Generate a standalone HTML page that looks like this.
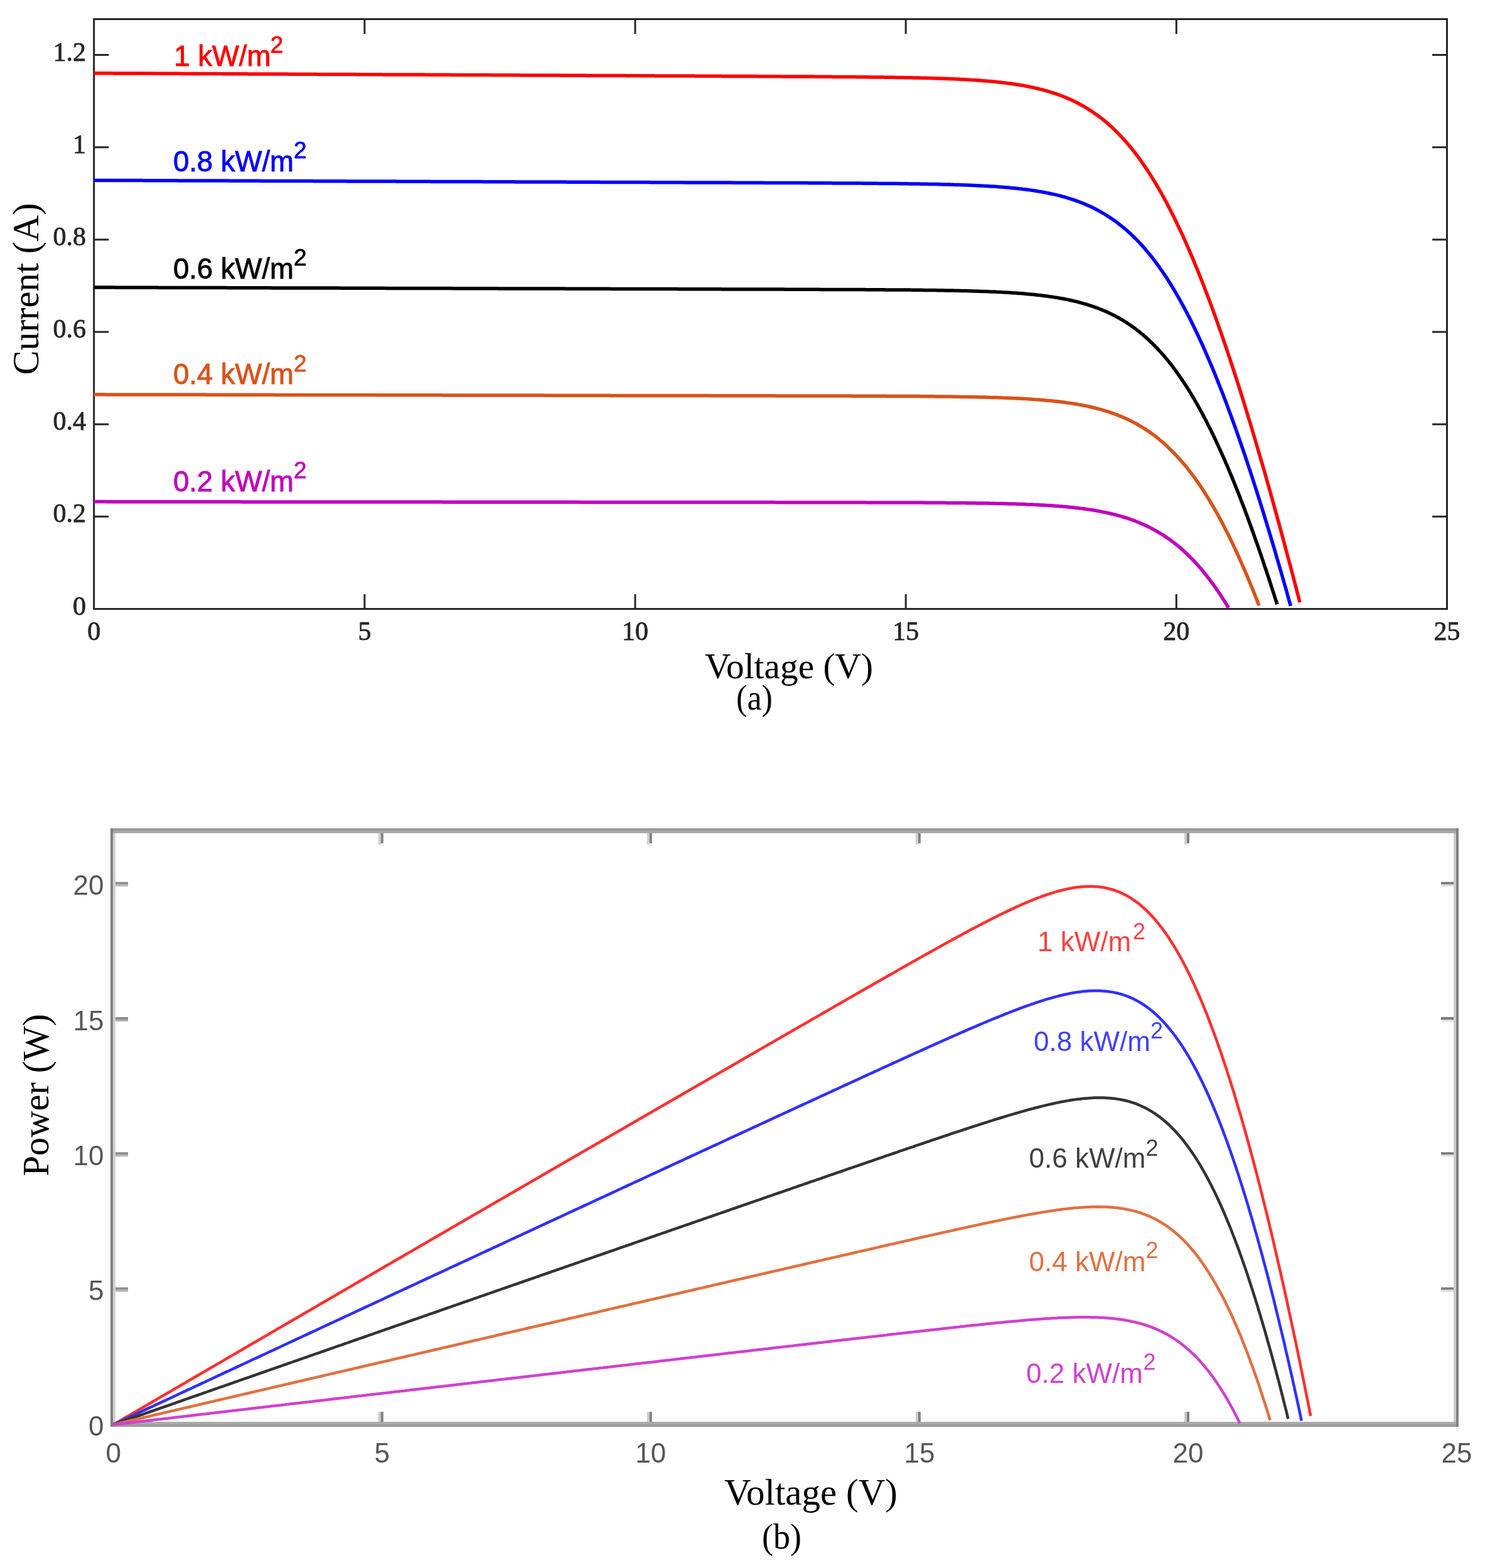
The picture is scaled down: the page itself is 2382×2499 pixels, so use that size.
<!DOCTYPE html>
<html><head><meta charset="utf-8"><title>PV characteristics</title>
<style>html,body{margin:0;padding:0;background:#fff;}svg{display:block;}</style></head>
<body>
<svg width="2382" height="2499" viewBox="0 0 2382 2499">
<rect width="2382" height="2499" fill="#fff"/>

<g>
<rect x="149.7" y="30.5" width="2155.8" height="940.0" fill="none" stroke="#262626" stroke-width="3"/>
<line x1="580.9" y1="970.5" x2="580.9" y2="947.0" stroke="#262626" stroke-width="3"/>
<line x1="580.9" y1="30.5" x2="580.9" y2="54.0" stroke="#262626" stroke-width="3"/>
<line x1="1012.0" y1="970.5" x2="1012.0" y2="947.0" stroke="#262626" stroke-width="3"/>
<line x1="1012.0" y1="30.5" x2="1012.0" y2="54.0" stroke="#262626" stroke-width="3"/>
<line x1="1443.2" y1="970.5" x2="1443.2" y2="947.0" stroke="#262626" stroke-width="3"/>
<line x1="1443.2" y1="30.5" x2="1443.2" y2="54.0" stroke="#262626" stroke-width="3"/>
<line x1="1874.3" y1="970.5" x2="1874.3" y2="947.0" stroke="#262626" stroke-width="3"/>
<line x1="1874.3" y1="30.5" x2="1874.3" y2="54.0" stroke="#262626" stroke-width="3"/>
<line x1="149.7" y1="823.3" x2="173.2" y2="823.3" stroke="#262626" stroke-width="3"/>
<line x1="2305.5" y1="823.3" x2="2282.0" y2="823.3" stroke="#262626" stroke-width="3"/>
<line x1="149.7" y1="676.2" x2="173.2" y2="676.2" stroke="#262626" stroke-width="3"/>
<line x1="2305.5" y1="676.2" x2="2282.0" y2="676.2" stroke="#262626" stroke-width="3"/>
<line x1="149.7" y1="529.0" x2="173.2" y2="529.0" stroke="#262626" stroke-width="3"/>
<line x1="2305.5" y1="529.0" x2="2282.0" y2="529.0" stroke="#262626" stroke-width="3"/>
<line x1="149.7" y1="381.9" x2="173.2" y2="381.9" stroke="#262626" stroke-width="3"/>
<line x1="2305.5" y1="381.9" x2="2282.0" y2="381.9" stroke="#262626" stroke-width="3"/>
<line x1="149.7" y1="234.7" x2="173.2" y2="234.7" stroke="#262626" stroke-width="3"/>
<line x1="2305.5" y1="234.7" x2="2282.0" y2="234.7" stroke="#262626" stroke-width="3"/>
<line x1="149.7" y1="87.5" x2="173.2" y2="87.5" stroke="#262626" stroke-width="3"/>
<line x1="2305.5" y1="87.5" x2="2282.0" y2="87.5" stroke="#262626" stroke-width="3"/>
<g font-family="Liberation Serif, serif" font-size="42" fill="#262626" stroke="#262626" stroke-width="0.8">
<text x="149.7" y="1020" text-anchor="middle">0</text>
<text x="580.9" y="1020" text-anchor="middle">5</text>
<text x="1012.0" y="1020" text-anchor="middle">10</text>
<text x="1443.2" y="1020" text-anchor="middle">15</text>
<text x="1874.3" y="1020" text-anchor="middle">20</text>
<text x="2305.4" y="1020" text-anchor="middle">25</text>
<text x="137" y="979.5" text-anchor="end">0</text>
<text x="137" y="832.3" text-anchor="end">0.2</text>
<text x="137" y="685.2" text-anchor="end">0.4</text>
<text x="137" y="538.0" text-anchor="end">0.6</text>
<text x="137" y="390.9" text-anchor="end">0.8</text>
<text x="137" y="243.7" text-anchor="end">1</text>
<text x="137" y="96.5" text-anchor="end">1.2</text>
</g>
<path d="M149.7,116.7 L152.9,116.7 L156.1,116.7 L159.3,116.8 L162.5,116.8 L165.7,116.8 L168.9,116.8 L172.2,116.8 L175.4,116.8 L178.6,116.8 L181.8,116.9 L185.0,116.9 L188.2,116.9 L191.4,116.9 L194.6,116.9 L197.8,116.9 L201.0,116.9 L204.2,117.0 L207.4,117.0 L210.6,117.0 L213.8,117.0 L217.1,117.0 L220.3,117.0 L223.5,117.1 L226.7,117.1 L229.9,117.1 L233.1,117.1 L236.3,117.1 L239.5,117.1 L242.7,117.1 L245.9,117.2 L249.1,117.2 L252.3,117.2 L255.5,117.2 L258.8,117.2 L262.0,117.2 L265.2,117.2 L268.4,117.3 L271.6,117.3 L274.8,117.3 L278.0,117.3 L281.2,117.3 L284.4,117.3 L287.6,117.3 L290.8,117.4 L294.0,117.4 L297.2,117.4 L300.5,117.4 L303.7,117.4 L306.9,117.4 L310.1,117.5 L313.3,117.5 L316.5,117.5 L319.7,117.5 L322.9,117.5 L326.1,117.5 L329.3,117.5 L332.5,117.6 L335.7,117.6 L338.9,117.6 L342.1,117.6 L345.4,117.6 L348.6,117.6 L351.8,117.6 L355.0,117.7 L358.2,117.7 L361.4,117.7 L364.6,117.7 L367.8,117.7 L371.0,117.7 L374.2,117.8 L377.4,117.8 L380.6,117.8 L383.8,117.8 L387.1,117.8 L390.3,117.8 L393.5,117.8 L396.7,117.9 L399.9,117.9 L403.1,117.9 L406.3,117.9 L409.5,117.9 L412.7,117.9 L415.9,117.9 L419.1,118.0 L422.3,118.0 L425.5,118.0 L428.8,118.0 L432.0,118.0 L435.2,118.0 L438.4,118.0 L441.6,118.1 L444.8,118.1 L448.0,118.1 L451.2,118.1 L454.4,118.1 L457.6,118.1 L460.8,118.2 L464.0,118.2 L467.2,118.2 L470.4,118.2 L473.7,118.2 L476.9,118.2 L480.1,118.2 L483.3,118.3 L486.5,118.3 L489.7,118.3 L492.9,118.3 L496.1,118.3 L499.3,118.3 L502.5,118.3 L505.7,118.4 L508.9,118.4 L512.1,118.4 L515.4,118.4 L518.6,118.4 L521.8,118.4 L525.0,118.4 L528.2,118.5 L531.4,118.5 L534.6,118.5 L537.8,118.5 L541.0,118.5 L544.2,118.5 L547.4,118.6 L550.6,118.6 L553.8,118.6 L557.1,118.6 L560.3,118.6 L563.5,118.6 L566.7,118.6 L569.9,118.7 L573.1,118.7 L576.3,118.7 L579.5,118.7 L582.7,118.7 L585.9,118.7 L589.1,118.7 L592.3,118.8 L595.5,118.8 L598.7,118.8 L602.0,118.8 L605.2,118.8 L608.4,118.8 L611.6,118.9 L614.8,118.9 L618.0,118.9 L621.2,118.9 L624.4,118.9 L627.6,118.9 L630.8,118.9 L634.0,119.0 L637.2,119.0 L640.4,119.0 L643.7,119.0 L646.9,119.0 L650.1,119.0 L653.3,119.0 L656.5,119.1 L659.7,119.1 L662.9,119.1 L666.1,119.1 L669.3,119.1 L672.5,119.1 L675.7,119.1 L678.9,119.2 L682.1,119.2 L685.4,119.2 L688.6,119.2 L691.8,119.2 L695.0,119.2 L698.2,119.3 L701.4,119.3 L704.6,119.3 L707.8,119.3 L711.0,119.3 L714.2,119.3 L717.4,119.3 L720.6,119.4 L723.8,119.4 L727.0,119.4 L730.3,119.4 L733.5,119.4 L736.7,119.4 L739.9,119.4 L743.1,119.5 L746.3,119.5 L749.5,119.5 L752.7,119.5 L755.9,119.5 L759.1,119.5 L762.3,119.5 L765.5,119.6 L768.7,119.6 L772.0,119.6 L775.2,119.6 L778.4,119.6 L781.6,119.6 L784.8,119.7 L788.0,119.7 L791.2,119.7 L794.4,119.7 L797.6,119.7 L800.8,119.7 L804.0,119.7 L807.2,119.8 L810.4,119.8 L813.7,119.8 L816.9,119.8 L820.1,119.8 L823.3,119.8 L826.5,119.8 L829.7,119.9 L832.9,119.9 L836.1,119.9 L839.3,119.9 L842.5,119.9 L845.7,119.9 L848.9,120.0 L852.1,120.0 L855.3,120.0 L858.6,120.0 L861.8,120.0 L865.0,120.0 L868.2,120.0 L871.4,120.1 L874.6,120.1 L877.8,120.1 L881.0,120.1 L884.2,120.1 L887.4,120.1 L890.6,120.1 L893.8,120.2 L897.0,120.2 L900.3,120.2 L903.5,120.2 L906.7,120.2 L909.9,120.2 L913.1,120.2 L916.3,120.3 L919.5,120.3 L922.7,120.3 L925.9,120.3 L929.1,120.3 L932.3,120.3 L935.5,120.4 L938.7,120.4 L942.0,120.4 L945.2,120.4 L948.4,120.4 L951.6,120.4 L954.8,120.4 L958.0,120.5 L961.2,120.5 L964.4,120.5 L967.6,120.5 L970.8,120.5 L974.0,120.5 L977.2,120.5 L980.4,120.6 L983.6,120.6 L986.9,120.6 L990.1,120.6 L993.3,120.6 L996.5,120.6 L999.7,120.7 L1002.9,120.7 L1006.1,120.7 L1009.3,120.7 L1012.5,120.7 L1015.7,120.7 L1018.9,120.7 L1022.1,120.8 L1025.3,120.8 L1028.6,120.8 L1031.8,120.8 L1035.0,120.8 L1038.2,120.8 L1041.4,120.8 L1044.6,120.9 L1047.8,120.9 L1051.0,120.9 L1054.2,120.9 L1057.4,120.9 L1060.6,120.9 L1063.8,121.0 L1067.0,121.0 L1070.3,121.0 L1073.5,121.0 L1076.7,121.0 L1079.9,121.0 L1083.1,121.0 L1086.3,121.1 L1089.5,121.1 L1092.7,121.1 L1095.9,121.1 L1099.1,121.1 L1102.3,121.1 L1105.5,121.1 L1108.7,121.2 L1111.9,121.2 L1115.2,121.2 L1118.4,121.2 L1121.6,121.2 L1124.8,121.2 L1128.0,121.3 L1131.2,121.3 L1134.4,121.3 L1137.6,121.3 L1140.8,121.3 L1144.0,121.3 L1147.2,121.3 L1150.4,121.4 L1153.6,121.4 L1156.9,121.4 L1160.1,121.4 L1163.3,121.4 L1166.5,121.4 L1169.7,121.5 L1172.9,121.5 L1176.1,121.5 L1179.3,121.5 L1182.5,121.5 L1185.7,121.5 L1188.9,121.6 L1192.1,121.6 L1195.3,121.6 L1198.6,121.6 L1201.8,121.6 L1205.0,121.6 L1208.2,121.7 L1211.4,121.7 L1214.6,121.7 L1217.8,121.7 L1221.0,121.7 L1224.2,121.7 L1227.4,121.8 L1230.6,121.8 L1233.8,121.8 L1237.0,121.8 L1240.2,121.8 L1243.5,121.8 L1246.7,121.9 L1249.9,121.9 L1253.1,121.9 L1256.3,121.9 L1259.5,121.9 L1262.7,121.9 L1265.9,122.0 L1269.1,122.0 L1272.3,122.0 L1275.5,122.0 L1278.7,122.0 L1281.9,122.1 L1285.2,122.1 L1288.4,122.1 L1291.6,122.1 L1294.8,122.1 L1298.0,122.2 L1301.2,122.2 L1304.4,122.2 L1307.6,122.2 L1310.8,122.2 L1314.0,122.3 L1317.2,122.3 L1320.4,122.3 L1323.6,122.3 L1326.9,122.4 L1330.1,122.4 L1333.3,122.4 L1336.5,122.4 L1339.7,122.5 L1342.9,122.5 L1346.1,122.5 L1349.3,122.5 L1352.5,122.6 L1355.7,122.6 L1358.9,122.6 L1362.1,122.6 L1365.3,122.7 L1368.5,122.7 L1371.8,122.7 L1375.0,122.8 L1378.2,122.8 L1381.4,122.8 L1384.6,122.9 L1387.8,122.9 L1391.0,122.9 L1394.2,123.0 L1397.4,123.0 L1400.6,123.0 L1403.8,123.1 L1407.0,123.1 L1410.2,123.2 L1413.5,123.2 L1416.7,123.3 L1419.9,123.3 L1423.1,123.3 L1426.3,123.4 L1429.5,123.4 L1432.7,123.5 L1435.9,123.5 L1439.1,123.6 L1442.3,123.7 L1445.5,123.7 L1448.7,123.8 L1451.9,123.8 L1455.2,123.9 L1458.4,124.0 L1461.6,124.0 L1464.8,124.1 L1468.0,124.2 L1471.2,124.3 L1474.4,124.3 L1477.6,124.4 L1480.8,124.5 L1484.0,124.6 L1487.2,124.7 L1490.4,124.8 L1493.6,124.9 L1496.8,125.0 L1500.1,125.1 L1503.3,125.2 L1506.5,125.3 L1509.7,125.5 L1512.9,125.6 L1516.1,125.7 L1519.3,125.8 L1522.5,126.0 L1525.7,126.1 L1528.9,126.3 L1532.1,126.5 L1535.3,126.6 L1538.5,126.8 L1541.8,127.0 L1545.0,127.2 L1548.2,127.4 L1551.4,127.6 L1554.6,127.8 L1557.8,128.0 L1561.0,128.2 L1564.2,128.5 L1567.4,128.7 L1570.6,129.0 L1573.8,129.2 L1577.0,129.5 L1580.2,129.8 L1583.5,130.1 L1586.7,130.4 L1589.9,130.8 L1593.1,131.1 L1596.3,131.5 L1599.5,131.9 L1602.7,132.2 L1605.9,132.7 L1609.1,133.1 L1612.3,133.5 L1615.5,134.0 L1618.7,134.5 L1621.9,135.0 L1625.1,135.5 L1628.4,136.0 L1631.6,136.6 L1634.8,137.2 L1638.0,137.8 L1641.2,138.5 L1644.4,139.1 L1647.6,139.8 L1650.8,140.6 L1654.0,141.3 L1657.2,142.1 L1660.4,142.9 L1663.6,143.8 L1666.8,144.7 L1670.1,145.6 L1673.3,146.6 L1676.5,147.6 L1679.7,148.6 L1682.9,149.7 L1686.1,150.8 L1689.3,152.0 L1692.5,153.2 L1695.7,154.5 L1698.9,155.8 L1702.1,157.1 L1705.3,158.6 L1708.5,160.0 L1711.8,161.6 L1715.0,163.2 L1718.2,164.8 L1721.4,166.5 L1724.6,168.3 L1727.8,170.1 L1731.0,172.0 L1734.2,174.0 L1737.4,176.1 L1740.6,178.2 L1743.8,180.4 L1747.0,182.6 L1750.2,185.0 L1753.4,187.4 L1756.7,189.9 L1759.9,192.5 L1763.1,195.2 L1766.3,198.0 L1769.5,200.9 L1772.7,203.8 L1775.9,206.9 L1779.1,210.0 L1782.3,213.3 L1785.5,216.6 L1788.7,220.1 L1791.9,223.6 L1795.1,227.3 L1798.4,231.0 L1801.6,234.9 L1804.8,238.9 L1808.0,243.0 L1811.2,247.2 L1814.4,251.5 L1817.6,255.9 L1820.8,260.5 L1824.0,265.1 L1827.2,269.9 L1830.4,274.8 L1833.6,279.8 L1836.8,285.0 L1840.1,290.2 L1843.3,295.6 L1846.5,301.1 L1849.7,306.7 L1852.9,312.5 L1856.1,318.3 L1859.3,324.3 L1862.5,330.5 L1865.7,336.7 L1868.9,343.1 L1872.1,349.5 L1875.3,356.2 L1878.5,362.9 L1881.7,369.7 L1885.0,376.7 L1888.2,383.8 L1891.4,391.1 L1894.6,398.4 L1897.8,405.9 L1901.0,413.4 L1904.2,421.2 L1907.4,429.0 L1910.6,436.9 L1913.8,445.0 L1917.0,453.1 L1920.2,461.4 L1923.4,469.8 L1926.7,478.3 L1929.9,487.0 L1933.1,495.7 L1936.3,504.6 L1939.5,513.5 L1942.7,522.6 L1945.9,531.7 L1949.1,541.0 L1952.3,550.4 L1955.5,559.9 L1958.7,569.5 L1961.9,579.2 L1965.1,588.9 L1968.4,598.8 L1971.6,608.8 L1974.8,618.9 L1978.0,629.1 L1981.2,639.3 L1984.4,649.7 L1987.6,660.1 L1990.8,670.7 L1994.0,681.3 L1997.2,692.0 L2000.4,702.8 L2003.6,713.7 L2006.8,724.7 L2010.0,735.7 L2013.3,746.8 L2016.5,758.1 L2019.7,769.4 L2022.9,780.7 L2026.1,792.2 L2029.3,803.7 L2032.5,815.3 L2035.7,827.0 L2038.9,838.7 L2042.1,850.5 L2045.3,862.4 L2048.5,874.4 L2051.7,886.4 L2055.0,898.5 L2058.2,910.7 L2061.4,922.9 L2064.6,935.2 L2067.8,947.5 L2071.0,959.9" fill="none" stroke="#ff0000" stroke-width="5.5" stroke-linejoin="round"/>
<path d="M149.7,287.4 L152.9,287.4 L156.1,287.4 L159.2,287.4 L162.4,287.4 L165.6,287.4 L168.8,287.4 L172.0,287.4 L175.2,287.5 L178.3,287.5 L181.5,287.5 L184.7,287.5 L187.9,287.5 L191.1,287.5 L194.3,287.5 L197.4,287.5 L200.6,287.5 L203.8,287.6 L207.0,287.6 L210.2,287.6 L213.4,287.6 L216.5,287.6 L219.7,287.6 L222.9,287.6 L226.1,287.6 L229.3,287.7 L232.5,287.7 L235.6,287.7 L238.8,287.7 L242.0,287.7 L245.2,287.7 L248.4,287.7 L251.6,287.7 L254.7,287.7 L257.9,287.8 L261.1,287.8 L264.3,287.8 L267.5,287.8 L270.7,287.8 L273.8,287.8 L277.0,287.8 L280.2,287.8 L283.4,287.9 L286.6,287.9 L289.8,287.9 L292.9,287.9 L296.1,287.9 L299.3,287.9 L302.5,287.9 L305.7,287.9 L308.9,287.9 L312.0,288.0 L315.2,288.0 L318.4,288.0 L321.6,288.0 L324.8,288.0 L328.0,288.0 L331.1,288.0 L334.3,288.0 L337.5,288.1 L340.7,288.1 L343.9,288.1 L347.1,288.1 L350.2,288.1 L353.4,288.1 L356.6,288.1 L359.8,288.1 L363.0,288.1 L366.2,288.2 L369.3,288.2 L372.5,288.2 L375.7,288.2 L378.9,288.2 L382.1,288.2 L385.3,288.2 L388.4,288.2 L391.6,288.3 L394.8,288.3 L398.0,288.3 L401.2,288.3 L404.4,288.3 L407.5,288.3 L410.7,288.3 L413.9,288.3 L417.1,288.4 L420.3,288.4 L423.5,288.4 L426.6,288.4 L429.8,288.4 L433.0,288.4 L436.2,288.4 L439.4,288.4 L442.6,288.4 L445.7,288.5 L448.9,288.5 L452.1,288.5 L455.3,288.5 L458.5,288.5 L461.7,288.5 L464.8,288.5 L468.0,288.5 L471.2,288.6 L474.4,288.6 L477.6,288.6 L480.7,288.6 L483.9,288.6 L487.1,288.6 L490.3,288.6 L493.5,288.6 L496.7,288.6 L499.8,288.7 L503.0,288.7 L506.2,288.7 L509.4,288.7 L512.6,288.7 L515.8,288.7 L518.9,288.7 L522.1,288.7 L525.3,288.8 L528.5,288.8 L531.7,288.8 L534.9,288.8 L538.0,288.8 L541.2,288.8 L544.4,288.8 L547.6,288.8 L550.8,288.8 L554.0,288.9 L557.1,288.9 L560.3,288.9 L563.5,288.9 L566.7,288.9 L569.9,288.9 L573.1,288.9 L576.2,288.9 L579.4,289.0 L582.6,289.0 L585.8,289.0 L589.0,289.0 L592.2,289.0 L595.3,289.0 L598.5,289.0 L601.7,289.0 L604.9,289.0 L608.1,289.1 L611.3,289.1 L614.4,289.1 L617.6,289.1 L620.8,289.1 L624.0,289.1 L627.2,289.1 L630.4,289.1 L633.5,289.2 L636.7,289.2 L639.9,289.2 L643.1,289.2 L646.3,289.2 L649.5,289.2 L652.6,289.2 L655.8,289.2 L659.0,289.2 L662.2,289.3 L665.4,289.3 L668.6,289.3 L671.7,289.3 L674.9,289.3 L678.1,289.3 L681.3,289.3 L684.5,289.3 L687.7,289.4 L690.8,289.4 L694.0,289.4 L697.2,289.4 L700.4,289.4 L703.6,289.4 L706.8,289.4 L709.9,289.4 L713.1,289.4 L716.3,289.5 L719.5,289.5 L722.7,289.5 L725.9,289.5 L729.0,289.5 L732.2,289.5 L735.4,289.5 L738.6,289.5 L741.8,289.6 L745.0,289.6 L748.1,289.6 L751.3,289.6 L754.5,289.6 L757.7,289.6 L760.9,289.6 L764.1,289.6 L767.2,289.6 L770.4,289.7 L773.6,289.7 L776.8,289.7 L780.0,289.7 L783.2,289.7 L786.3,289.7 L789.5,289.7 L792.7,289.7 L795.9,289.8 L799.1,289.8 L802.2,289.8 L805.4,289.8 L808.6,289.8 L811.8,289.8 L815.0,289.8 L818.2,289.8 L821.3,289.9 L824.5,289.9 L827.7,289.9 L830.9,289.9 L834.1,289.9 L837.3,289.9 L840.4,289.9 L843.6,289.9 L846.8,289.9 L850.0,290.0 L853.2,290.0 L856.4,290.0 L859.5,290.0 L862.7,290.0 L865.9,290.0 L869.1,290.0 L872.3,290.0 L875.5,290.1 L878.6,290.1 L881.8,290.1 L885.0,290.1 L888.2,290.1 L891.4,290.1 L894.6,290.1 L897.7,290.1 L900.9,290.1 L904.1,290.2 L907.3,290.2 L910.5,290.2 L913.7,290.2 L916.8,290.2 L920.0,290.2 L923.2,290.2 L926.4,290.2 L929.6,290.3 L932.8,290.3 L935.9,290.3 L939.1,290.3 L942.3,290.3 L945.5,290.3 L948.7,290.3 L951.9,290.3 L955.0,290.3 L958.2,290.4 L961.4,290.4 L964.6,290.4 L967.8,290.4 L971.0,290.4 L974.1,290.4 L977.3,290.4 L980.5,290.4 L983.7,290.5 L986.9,290.5 L990.1,290.5 L993.2,290.5 L996.4,290.5 L999.6,290.5 L1002.8,290.5 L1006.0,290.5 L1009.2,290.5 L1012.3,290.6 L1015.5,290.6 L1018.7,290.6 L1021.9,290.6 L1025.1,290.6 L1028.3,290.6 L1031.4,290.6 L1034.6,290.6 L1037.8,290.7 L1041.0,290.7 L1044.2,290.7 L1047.4,290.7 L1050.5,290.7 L1053.7,290.7 L1056.9,290.7 L1060.1,290.7 L1063.3,290.8 L1066.5,290.8 L1069.6,290.8 L1072.8,290.8 L1076.0,290.8 L1079.2,290.8 L1082.4,290.8 L1085.6,290.8 L1088.7,290.8 L1091.9,290.9 L1095.1,290.9 L1098.3,290.9 L1101.5,290.9 L1104.7,290.9 L1107.8,290.9 L1111.0,290.9 L1114.2,290.9 L1117.4,291.0 L1120.6,291.0 L1123.7,291.0 L1126.9,291.0 L1130.1,291.0 L1133.3,291.0 L1136.5,291.0 L1139.7,291.0 L1142.8,291.1 L1146.0,291.1 L1149.2,291.1 L1152.4,291.1 L1155.6,291.1 L1158.8,291.1 L1161.9,291.1 L1165.1,291.1 L1168.3,291.2 L1171.5,291.2 L1174.7,291.2 L1177.9,291.2 L1181.0,291.2 L1184.2,291.2 L1187.4,291.2 L1190.6,291.2 L1193.8,291.3 L1197.0,291.3 L1200.1,291.3 L1203.3,291.3 L1206.5,291.3 L1209.7,291.3 L1212.9,291.3 L1216.1,291.3 L1219.2,291.4 L1222.4,291.4 L1225.6,291.4 L1228.8,291.4 L1232.0,291.4 L1235.2,291.4 L1238.3,291.4 L1241.5,291.4 L1244.7,291.5 L1247.9,291.5 L1251.1,291.5 L1254.3,291.5 L1257.4,291.5 L1260.6,291.5 L1263.8,291.5 L1267.0,291.6 L1270.2,291.6 L1273.4,291.6 L1276.5,291.6 L1279.7,291.6 L1282.9,291.6 L1286.1,291.6 L1289.3,291.7 L1292.5,291.7 L1295.6,291.7 L1298.8,291.7 L1302.0,291.7 L1305.2,291.7 L1308.4,291.8 L1311.6,291.8 L1314.7,291.8 L1317.9,291.8 L1321.1,291.8 L1324.3,291.8 L1327.5,291.9 L1330.7,291.9 L1333.8,291.9 L1337.0,291.9 L1340.2,291.9 L1343.4,291.9 L1346.6,292.0 L1349.8,292.0 L1352.9,292.0 L1356.1,292.0 L1359.3,292.0 L1362.5,292.1 L1365.7,292.1 L1368.9,292.1 L1372.0,292.1 L1375.2,292.2 L1378.4,292.2 L1381.6,292.2 L1384.8,292.2 L1388.0,292.3 L1391.1,292.3 L1394.3,292.3 L1397.5,292.3 L1400.7,292.4 L1403.9,292.4 L1407.1,292.4 L1410.2,292.4 L1413.4,292.5 L1416.6,292.5 L1419.8,292.5 L1423.0,292.6 L1426.2,292.6 L1429.3,292.6 L1432.5,292.7 L1435.7,292.7 L1438.9,292.7 L1442.1,292.8 L1445.2,292.8 L1448.4,292.9 L1451.6,292.9 L1454.8,293.0 L1458.0,293.0 L1461.2,293.1 L1464.3,293.1 L1467.5,293.2 L1470.7,293.2 L1473.9,293.3 L1477.1,293.3 L1480.3,293.4 L1483.4,293.4 L1486.6,293.5 L1489.8,293.6 L1493.0,293.6 L1496.2,293.7 L1499.4,293.8 L1502.5,293.9 L1505.7,293.9 L1508.9,294.0 L1512.1,294.1 L1515.3,294.2 L1518.5,294.3 L1521.6,294.4 L1524.8,294.5 L1528.0,294.6 L1531.2,294.7 L1534.4,294.8 L1537.6,294.9 L1540.7,295.0 L1543.9,295.2 L1547.1,295.3 L1550.3,295.4 L1553.5,295.6 L1556.7,295.7 L1559.8,295.9 L1563.0,296.0 L1566.2,296.2 L1569.4,296.4 L1572.6,296.5 L1575.8,296.7 L1578.9,296.9 L1582.1,297.1 L1585.3,297.3 L1588.5,297.5 L1591.7,297.8 L1594.9,298.0 L1598.0,298.3 L1601.2,298.5 L1604.4,298.8 L1607.6,299.1 L1610.8,299.4 L1614.0,299.7 L1617.1,300.0 L1620.3,300.3 L1623.5,300.7 L1626.7,301.0 L1629.9,301.4 L1633.1,301.8 L1636.2,302.2 L1639.4,302.6 L1642.6,303.1 L1645.8,303.6 L1649.0,304.0 L1652.2,304.5 L1655.3,305.1 L1658.5,305.6 L1661.7,306.2 L1664.9,306.8 L1668.1,307.4 L1671.3,308.0 L1674.4,308.7 L1677.6,309.4 L1680.8,310.1 L1684.0,310.9 L1687.2,311.7 L1690.4,312.5 L1693.5,313.3 L1696.7,314.2 L1699.9,315.2 L1703.1,316.1 L1706.3,317.1 L1709.5,318.2 L1712.6,319.2 L1715.8,320.4 L1719.0,321.5 L1722.2,322.7 L1725.4,324.0 L1728.6,325.3 L1731.7,326.7 L1734.9,328.1 L1738.1,329.6 L1741.3,331.1 L1744.5,332.7 L1747.7,334.3 L1750.8,336.0 L1754.0,337.8 L1757.2,339.6 L1760.4,341.5 L1763.6,343.5 L1766.7,345.5 L1769.9,347.6 L1773.1,349.8 L1776.3,352.0 L1779.5,354.4 L1782.7,356.8 L1785.8,359.3 L1789.0,361.9 L1792.2,364.5 L1795.4,367.3 L1798.6,370.1 L1801.8,373.1 L1804.9,376.1 L1808.1,379.2 L1811.3,382.4 L1814.5,385.7 L1817.7,389.1 L1820.9,392.7 L1824.0,396.3 L1827.2,400.0 L1830.4,403.8 L1833.6,407.8 L1836.8,411.8 L1840.0,416.0 L1843.1,420.3 L1846.3,424.6 L1849.5,429.1 L1852.7,433.7 L1855.9,438.5 L1859.1,443.3 L1862.2,448.3 L1865.4,453.3 L1868.6,458.5 L1871.8,463.9 L1875.0,469.3 L1878.2,474.9 L1881.3,480.5 L1884.5,486.3 L1887.7,492.3 L1890.9,498.3 L1894.1,504.5 L1897.3,510.7 L1900.4,517.2 L1903.6,523.7 L1906.8,530.3 L1910.0,537.1 L1913.2,544.0 L1916.4,551.0 L1919.5,558.1 L1922.7,565.4 L1925.9,572.8 L1929.1,580.3 L1932.3,587.9 L1935.5,595.6 L1938.6,603.4 L1941.8,611.4 L1945.0,619.5 L1948.2,627.6 L1951.4,635.9 L1954.6,644.3 L1957.7,652.9 L1960.9,661.5 L1964.1,670.2 L1967.3,679.1 L1970.5,688.0 L1973.7,697.1 L1976.8,706.2 L1980.0,715.5 L1983.2,724.9 L1986.4,734.3 L1989.6,743.9 L1992.8,753.6 L1995.9,763.3 L1999.1,773.2 L2002.3,783.1 L2005.5,793.2 L2008.7,803.3 L2011.9,813.6 L2015.0,823.9 L2018.2,834.3 L2021.4,844.8 L2024.6,855.4 L2027.8,866.1 L2031.0,876.8 L2034.1,887.7 L2037.3,898.6 L2040.5,909.6 L2043.7,920.7 L2046.9,931.8 L2050.1,943.1 L2053.2,954.4 L2056.4,965.8" fill="none" stroke="#0000ff" stroke-width="5.5" stroke-linejoin="round"/>
<path d="M149.7,458.1 L152.8,458.1 L156.0,458.1 L159.1,458.1 L162.3,458.1 L165.4,458.1 L168.6,458.1 L171.7,458.1 L174.9,458.1 L178.0,458.1 L181.2,458.1 L184.3,458.2 L187.5,458.2 L190.6,458.2 L193.8,458.2 L196.9,458.2 L200.1,458.2 L203.2,458.2 L206.3,458.2 L209.5,458.2 L212.6,458.2 L215.8,458.2 L218.9,458.3 L222.1,458.3 L225.2,458.3 L228.4,458.3 L231.5,458.3 L234.7,458.3 L237.8,458.3 L241.0,458.3 L244.1,458.3 L247.3,458.3 L250.4,458.3 L253.6,458.4 L256.7,458.4 L259.9,458.4 L263.0,458.4 L266.1,458.4 L269.3,458.4 L272.4,458.4 L275.6,458.4 L278.7,458.4 L281.9,458.4 L285.0,458.4 L288.2,458.4 L291.3,458.5 L294.5,458.5 L297.6,458.5 L300.8,458.5 L303.9,458.5 L307.1,458.5 L310.2,458.5 L313.4,458.5 L316.5,458.5 L319.6,458.5 L322.8,458.5 L325.9,458.6 L329.1,458.6 L332.2,458.6 L335.4,458.6 L338.5,458.6 L341.7,458.6 L344.8,458.6 L348.0,458.6 L351.1,458.6 L354.3,458.6 L357.4,458.6 L360.6,458.6 L363.7,458.7 L366.9,458.7 L370.0,458.7 L373.1,458.7 L376.3,458.7 L379.4,458.7 L382.6,458.7 L385.7,458.7 L388.9,458.7 L392.0,458.7 L395.2,458.7 L398.3,458.8 L401.5,458.8 L404.6,458.8 L407.8,458.8 L410.9,458.8 L414.1,458.8 L417.2,458.8 L420.4,458.8 L423.5,458.8 L426.7,458.8 L429.8,458.8 L432.9,458.9 L436.1,458.9 L439.2,458.9 L442.4,458.9 L445.5,458.9 L448.7,458.9 L451.8,458.9 L455.0,458.9 L458.1,458.9 L461.3,458.9 L464.4,458.9 L467.6,458.9 L470.7,459.0 L473.9,459.0 L477.0,459.0 L480.2,459.0 L483.3,459.0 L486.4,459.0 L489.6,459.0 L492.7,459.0 L495.9,459.0 L499.0,459.0 L502.2,459.0 L505.3,459.1 L508.5,459.1 L511.6,459.1 L514.8,459.1 L517.9,459.1 L521.1,459.1 L524.2,459.1 L527.4,459.1 L530.5,459.1 L533.7,459.1 L536.8,459.1 L540.0,459.1 L543.1,459.2 L546.2,459.2 L549.4,459.2 L552.5,459.2 L555.7,459.2 L558.8,459.2 L562.0,459.2 L565.1,459.2 L568.3,459.2 L571.4,459.2 L574.6,459.2 L577.7,459.3 L580.9,459.3 L584.0,459.3 L587.2,459.3 L590.3,459.3 L593.5,459.3 L596.6,459.3 L599.7,459.3 L602.9,459.3 L606.0,459.3 L609.2,459.3 L612.3,459.3 L615.5,459.4 L618.6,459.4 L621.8,459.4 L624.9,459.4 L628.1,459.4 L631.2,459.4 L634.4,459.4 L637.5,459.4 L640.7,459.4 L643.8,459.4 L647.0,459.4 L650.1,459.5 L653.2,459.5 L656.4,459.5 L659.5,459.5 L662.7,459.5 L665.8,459.5 L669.0,459.5 L672.1,459.5 L675.3,459.5 L678.4,459.5 L681.6,459.5 L684.7,459.6 L687.9,459.6 L691.0,459.6 L694.2,459.6 L697.3,459.6 L700.5,459.6 L703.6,459.6 L706.8,459.6 L709.9,459.6 L713.0,459.6 L716.2,459.6 L719.3,459.6 L722.5,459.7 L725.6,459.7 L728.8,459.7 L731.9,459.7 L735.1,459.7 L738.2,459.7 L741.4,459.7 L744.5,459.7 L747.7,459.7 L750.8,459.7 L754.0,459.7 L757.1,459.8 L760.3,459.8 L763.4,459.8 L766.5,459.8 L769.7,459.8 L772.8,459.8 L776.0,459.8 L779.1,459.8 L782.3,459.8 L785.4,459.8 L788.6,459.8 L791.7,459.8 L794.9,459.9 L798.0,459.9 L801.2,459.9 L804.3,459.9 L807.5,459.9 L810.6,459.9 L813.8,459.9 L816.9,459.9 L820.0,459.9 L823.2,459.9 L826.3,459.9 L829.5,460.0 L832.6,460.0 L835.8,460.0 L838.9,460.0 L842.1,460.0 L845.2,460.0 L848.4,460.0 L851.5,460.0 L854.7,460.0 L857.8,460.0 L861.0,460.0 L864.1,460.1 L867.3,460.1 L870.4,460.1 L873.6,460.1 L876.7,460.1 L879.8,460.1 L883.0,460.1 L886.1,460.1 L889.3,460.1 L892.4,460.1 L895.6,460.1 L898.7,460.1 L901.9,460.2 L905.0,460.2 L908.2,460.2 L911.3,460.2 L914.5,460.2 L917.6,460.2 L920.8,460.2 L923.9,460.2 L927.1,460.2 L930.2,460.2 L933.3,460.2 L936.5,460.3 L939.6,460.3 L942.8,460.3 L945.9,460.3 L949.1,460.3 L952.2,460.3 L955.4,460.3 L958.5,460.3 L961.7,460.3 L964.8,460.3 L968.0,460.3 L971.1,460.3 L974.3,460.4 L977.4,460.4 L980.6,460.4 L983.7,460.4 L986.8,460.4 L990.0,460.4 L993.1,460.4 L996.3,460.4 L999.4,460.4 L1002.6,460.4 L1005.7,460.4 L1008.9,460.5 L1012.0,460.5 L1015.2,460.5 L1018.3,460.5 L1021.5,460.5 L1024.6,460.5 L1027.8,460.5 L1030.9,460.5 L1034.1,460.5 L1037.2,460.5 L1040.4,460.5 L1043.5,460.6 L1046.6,460.6 L1049.8,460.6 L1052.9,460.6 L1056.1,460.6 L1059.2,460.6 L1062.4,460.6 L1065.5,460.6 L1068.7,460.6 L1071.8,460.6 L1075.0,460.6 L1078.1,460.6 L1081.3,460.7 L1084.4,460.7 L1087.6,460.7 L1090.7,460.7 L1093.9,460.7 L1097.0,460.7 L1100.1,460.7 L1103.3,460.7 L1106.4,460.7 L1109.6,460.7 L1112.7,460.7 L1115.9,460.8 L1119.0,460.8 L1122.2,460.8 L1125.3,460.8 L1128.5,460.8 L1131.6,460.8 L1134.8,460.8 L1137.9,460.8 L1141.1,460.8 L1144.2,460.8 L1147.4,460.8 L1150.5,460.9 L1153.7,460.9 L1156.8,460.9 L1159.9,460.9 L1163.1,460.9 L1166.2,460.9 L1169.4,460.9 L1172.5,460.9 L1175.7,460.9 L1178.8,460.9 L1182.0,460.9 L1185.1,461.0 L1188.3,461.0 L1191.4,461.0 L1194.6,461.0 L1197.7,461.0 L1200.9,461.0 L1204.0,461.0 L1207.2,461.0 L1210.3,461.0 L1213.4,461.0 L1216.6,461.0 L1219.7,461.1 L1222.9,461.1 L1226.0,461.1 L1229.2,461.1 L1232.3,461.1 L1235.5,461.1 L1238.6,461.1 L1241.8,461.1 L1244.9,461.1 L1248.1,461.1 L1251.2,461.2 L1254.4,461.2 L1257.5,461.2 L1260.7,461.2 L1263.8,461.2 L1266.9,461.2 L1270.1,461.2 L1273.2,461.2 L1276.4,461.2 L1279.5,461.2 L1282.7,461.3 L1285.8,461.3 L1289.0,461.3 L1292.1,461.3 L1295.3,461.3 L1298.4,461.3 L1301.6,461.3 L1304.7,461.3 L1307.9,461.4 L1311.0,461.4 L1314.2,461.4 L1317.3,461.4 L1320.5,461.4 L1323.6,461.4 L1326.7,461.4 L1329.9,461.4 L1333.0,461.4 L1336.2,461.5 L1339.3,461.5 L1342.5,461.5 L1345.6,461.5 L1348.8,461.5 L1351.9,461.5 L1355.1,461.5 L1358.2,461.6 L1361.4,461.6 L1364.5,461.6 L1367.7,461.6 L1370.8,461.6 L1374.0,461.6 L1377.1,461.6 L1380.2,461.7 L1383.4,461.7 L1386.5,461.7 L1389.7,461.7 L1392.8,461.7 L1396.0,461.8 L1399.1,461.8 L1402.3,461.8 L1405.4,461.8 L1408.6,461.8 L1411.7,461.9 L1414.9,461.9 L1418.0,461.9 L1421.2,461.9 L1424.3,461.9 L1427.5,462.0 L1430.6,462.0 L1433.7,462.0 L1436.9,462.0 L1440.0,462.1 L1443.2,462.1 L1446.3,462.1 L1449.5,462.1 L1452.6,462.2 L1455.8,462.2 L1458.9,462.2 L1462.1,462.3 L1465.2,462.3 L1468.4,462.3 L1471.5,462.4 L1474.7,462.4 L1477.8,462.5 L1481.0,462.5 L1484.1,462.5 L1487.3,462.6 L1490.4,462.6 L1493.5,462.7 L1496.7,462.7 L1499.8,462.8 L1503.0,462.8 L1506.1,462.9 L1509.3,462.9 L1512.4,463.0 L1515.6,463.0 L1518.7,463.1 L1521.9,463.2 L1525.0,463.2 L1528.2,463.3 L1531.3,463.4 L1534.5,463.4 L1537.6,463.5 L1540.8,463.6 L1543.9,463.7 L1547.0,463.8 L1550.2,463.9 L1553.3,464.0 L1556.5,464.1 L1559.6,464.2 L1562.8,464.3 L1565.9,464.4 L1569.1,464.5 L1572.2,464.6 L1575.4,464.7 L1578.5,464.9 L1581.7,465.0 L1584.8,465.1 L1588.0,465.3 L1591.1,465.4 L1594.3,465.6 L1597.4,465.8 L1600.5,465.9 L1603.7,466.1 L1606.8,466.3 L1610.0,466.5 L1613.1,466.7 L1616.3,466.9 L1619.4,467.1 L1622.6,467.4 L1625.7,467.6 L1628.9,467.8 L1632.0,468.1 L1635.2,468.4 L1638.3,468.7 L1641.5,469.0 L1644.6,469.3 L1647.8,469.6 L1650.9,469.9 L1654.1,470.3 L1657.2,470.6 L1660.3,471.0 L1663.5,471.4 L1666.6,471.8 L1669.8,472.2 L1672.9,472.7 L1676.1,473.1 L1679.2,473.6 L1682.4,474.1 L1685.5,474.6 L1688.7,475.2 L1691.8,475.7 L1695.0,476.3 L1698.1,477.0 L1701.3,477.6 L1704.4,478.3 L1707.6,479.0 L1710.7,479.7 L1713.8,480.4 L1717.0,481.2 L1720.1,482.0 L1723.3,482.9 L1726.4,483.8 L1729.6,484.7 L1732.7,485.6 L1735.9,486.6 L1739.0,487.6 L1742.2,488.7 L1745.3,489.8 L1748.5,491.0 L1751.6,492.2 L1754.8,493.4 L1757.9,494.7 L1761.1,496.1 L1764.2,497.5 L1767.4,498.9 L1770.5,500.4 L1773.6,502.0 L1776.8,503.6 L1779.9,505.3 L1783.1,507.0 L1786.2,508.9 L1789.4,510.7 L1792.5,512.7 L1795.7,514.7 L1798.8,516.7 L1802.0,518.9 L1805.1,521.1 L1808.3,523.4 L1811.4,525.8 L1814.6,528.2 L1817.7,530.8 L1820.9,533.4 L1824.0,536.1 L1827.1,538.9 L1830.3,541.8 L1833.4,544.8 L1836.6,547.8 L1839.7,551.0 L1842.9,554.2 L1846.0,557.6 L1849.2,561.0 L1852.3,564.6 L1855.5,568.2 L1858.6,572.0 L1861.8,575.9 L1864.9,579.8 L1868.1,583.9 L1871.2,588.1 L1874.4,592.4 L1877.5,596.8 L1880.6,601.3 L1883.8,605.9 L1886.9,610.7 L1890.1,615.5 L1893.2,620.5 L1896.4,625.6 L1899.5,630.8 L1902.7,636.1 L1905.8,641.5 L1909.0,647.1 L1912.1,652.8 L1915.3,658.6 L1918.4,664.5 L1921.6,670.5 L1924.7,676.7 L1927.9,682.9 L1931.0,689.3 L1934.2,695.8 L1937.3,702.5 L1940.4,709.2 L1943.6,716.1 L1946.7,723.1 L1949.9,730.2 L1953.0,737.4 L1956.2,744.7 L1959.3,752.2 L1962.5,759.7 L1965.6,767.4 L1968.8,775.2 L1971.9,783.1 L1975.1,791.1 L1978.2,799.2 L1981.4,807.4 L1984.5,815.8 L1987.7,824.2 L1990.8,832.8 L1993.9,841.5 L1997.1,850.2 L2000.2,859.1 L2003.4,868.1 L2006.5,877.2 L2009.7,886.3 L2012.8,895.6 L2016.0,905.0 L2019.1,914.5 L2022.3,924.0 L2025.4,933.7 L2028.6,943.4 L2031.7,953.3 L2034.9,963.2" fill="none" stroke="#000000" stroke-width="5.5" stroke-linejoin="round"/>
<path d="M149.7,628.8 L152.8,628.8 L155.9,628.8 L159.0,628.8 L162.1,628.8 L165.2,628.8 L168.3,628.9 L171.4,628.9 L174.5,628.9 L177.6,628.9 L180.7,628.9 L183.8,628.9 L186.9,628.9 L190.0,628.9 L193.1,628.9 L196.2,628.9 L199.3,628.9 L202.4,628.9 L205.5,628.9 L208.6,628.9 L211.7,628.9 L214.8,628.9 L217.9,628.9 L221.0,629.0 L224.1,629.0 L227.2,629.0 L230.3,629.0 L233.4,629.0 L236.5,629.0 L239.6,629.0 L242.7,629.0 L245.8,629.0 L248.9,629.0 L252.0,629.0 L255.1,629.0 L258.2,629.0 L261.3,629.0 L264.4,629.0 L267.5,629.0 L270.6,629.0 L273.7,629.1 L276.8,629.1 L279.9,629.1 L283.0,629.1 L286.1,629.1 L289.2,629.1 L292.3,629.1 L295.4,629.1 L298.4,629.1 L301.5,629.1 L304.6,629.1 L307.7,629.1 L310.8,629.1 L313.9,629.1 L317.0,629.1 L320.1,629.1 L323.2,629.1 L326.3,629.1 L329.4,629.2 L332.5,629.2 L335.6,629.2 L338.7,629.2 L341.8,629.2 L344.9,629.2 L348.0,629.2 L351.1,629.2 L354.2,629.2 L357.3,629.2 L360.4,629.2 L363.5,629.2 L366.6,629.2 L369.7,629.2 L372.8,629.2 L375.9,629.2 L379.0,629.2 L382.1,629.3 L385.2,629.3 L388.3,629.3 L391.4,629.3 L394.5,629.3 L397.6,629.3 L400.7,629.3 L403.8,629.3 L406.9,629.3 L410.0,629.3 L413.1,629.3 L416.2,629.3 L419.3,629.3 L422.4,629.3 L425.5,629.3 L428.6,629.3 L431.7,629.3 L434.8,629.3 L437.9,629.4 L441.0,629.4 L444.1,629.4 L447.2,629.4 L450.3,629.4 L453.4,629.4 L456.5,629.4 L459.6,629.4 L462.7,629.4 L465.8,629.4 L468.9,629.4 L472.0,629.4 L475.1,629.4 L478.2,629.4 L481.3,629.4 L484.4,629.4 L487.5,629.4 L490.6,629.5 L493.7,629.5 L496.8,629.5 L499.9,629.5 L503.0,629.5 L506.1,629.5 L509.2,629.5 L512.3,629.5 L515.4,629.5 L518.5,629.5 L521.6,629.5 L524.7,629.5 L527.8,629.5 L530.9,629.5 L534.0,629.5 L537.1,629.5 L540.2,629.5 L543.3,629.6 L546.4,629.6 L549.5,629.6 L552.6,629.6 L555.7,629.6 L558.8,629.6 L561.9,629.6 L565.0,629.6 L568.1,629.6 L571.2,629.6 L574.3,629.6 L577.4,629.6 L580.5,629.6 L583.6,629.6 L586.7,629.6 L589.8,629.6 L592.9,629.6 L595.9,629.6 L599.0,629.7 L602.1,629.7 L605.2,629.7 L608.3,629.7 L611.4,629.7 L614.5,629.7 L617.6,629.7 L620.7,629.7 L623.8,629.7 L626.9,629.7 L630.0,629.7 L633.1,629.7 L636.2,629.7 L639.3,629.7 L642.4,629.7 L645.5,629.7 L648.6,629.7 L651.7,629.8 L654.8,629.8 L657.9,629.8 L661.0,629.8 L664.1,629.8 L667.2,629.8 L670.3,629.8 L673.4,629.8 L676.5,629.8 L679.6,629.8 L682.7,629.8 L685.8,629.8 L688.9,629.8 L692.0,629.8 L695.1,629.8 L698.2,629.8 L701.3,629.8 L704.4,629.8 L707.5,629.9 L710.6,629.9 L713.7,629.9 L716.8,629.9 L719.9,629.9 L723.0,629.9 L726.1,629.9 L729.2,629.9 L732.3,629.9 L735.4,629.9 L738.5,629.9 L741.6,629.9 L744.7,629.9 L747.8,629.9 L750.9,629.9 L754.0,629.9 L757.1,629.9 L760.2,630.0 L763.3,630.0 L766.4,630.0 L769.5,630.0 L772.6,630.0 L775.7,630.0 L778.8,630.0 L781.9,630.0 L785.0,630.0 L788.1,630.0 L791.2,630.0 L794.3,630.0 L797.4,630.0 L800.5,630.0 L803.6,630.0 L806.7,630.0 L809.8,630.0 L812.9,630.1 L816.0,630.1 L819.1,630.1 L822.2,630.1 L825.3,630.1 L828.4,630.1 L831.5,630.1 L834.6,630.1 L837.7,630.1 L840.8,630.1 L843.9,630.1 L847.0,630.1 L850.1,630.1 L853.2,630.1 L856.3,630.1 L859.4,630.1 L862.5,630.1 L865.6,630.1 L868.7,630.2 L871.8,630.2 L874.9,630.2 L878.0,630.2 L881.1,630.2 L884.2,630.2 L887.3,630.2 L890.3,630.2 L893.4,630.2 L896.5,630.2 L899.6,630.2 L902.7,630.2 L905.8,630.2 L908.9,630.2 L912.0,630.2 L915.1,630.2 L918.2,630.2 L921.3,630.3 L924.4,630.3 L927.5,630.3 L930.6,630.3 L933.7,630.3 L936.8,630.3 L939.9,630.3 L943.0,630.3 L946.1,630.3 L949.2,630.3 L952.3,630.3 L955.4,630.3 L958.5,630.3 L961.6,630.3 L964.7,630.3 L967.8,630.3 L970.9,630.3 L974.0,630.4 L977.1,630.4 L980.2,630.4 L983.3,630.4 L986.4,630.4 L989.5,630.4 L992.6,630.4 L995.7,630.4 L998.8,630.4 L1001.9,630.4 L1005.0,630.4 L1008.1,630.4 L1011.2,630.4 L1014.3,630.4 L1017.4,630.4 L1020.5,630.4 L1023.6,630.4 L1026.7,630.4 L1029.8,630.5 L1032.9,630.5 L1036.0,630.5 L1039.1,630.5 L1042.2,630.5 L1045.3,630.5 L1048.4,630.5 L1051.5,630.5 L1054.6,630.5 L1057.7,630.5 L1060.8,630.5 L1063.9,630.5 L1067.0,630.5 L1070.1,630.5 L1073.2,630.5 L1076.3,630.5 L1079.4,630.5 L1082.5,630.6 L1085.6,630.6 L1088.7,630.6 L1091.8,630.6 L1094.9,630.6 L1098.0,630.6 L1101.1,630.6 L1104.2,630.6 L1107.3,630.6 L1110.4,630.6 L1113.5,630.6 L1116.6,630.6 L1119.7,630.6 L1122.8,630.6 L1125.9,630.6 L1129.0,630.6 L1132.1,630.6 L1135.2,630.7 L1138.3,630.7 L1141.4,630.7 L1144.5,630.7 L1147.6,630.7 L1150.7,630.7 L1153.8,630.7 L1156.9,630.7 L1160.0,630.7 L1163.1,630.7 L1166.2,630.7 L1169.3,630.7 L1172.4,630.7 L1175.5,630.7 L1178.6,630.7 L1181.7,630.7 L1184.8,630.7 L1187.8,630.8 L1190.9,630.8 L1194.0,630.8 L1197.1,630.8 L1200.2,630.8 L1203.3,630.8 L1206.4,630.8 L1209.5,630.8 L1212.6,630.8 L1215.7,630.8 L1218.8,630.8 L1221.9,630.8 L1225.0,630.8 L1228.1,630.8 L1231.2,630.8 L1234.3,630.8 L1237.4,630.9 L1240.5,630.9 L1243.6,630.9 L1246.7,630.9 L1249.8,630.9 L1252.9,630.9 L1256.0,630.9 L1259.1,630.9 L1262.2,630.9 L1265.3,630.9 L1268.4,630.9 L1271.5,630.9 L1274.6,630.9 L1277.7,630.9 L1280.8,630.9 L1283.9,631.0 L1287.0,631.0 L1290.1,631.0 L1293.2,631.0 L1296.3,631.0 L1299.4,631.0 L1302.5,631.0 L1305.6,631.0 L1308.7,631.0 L1311.8,631.0 L1314.9,631.0 L1318.0,631.0 L1321.1,631.0 L1324.2,631.1 L1327.3,631.1 L1330.4,631.1 L1333.5,631.1 L1336.6,631.1 L1339.7,631.1 L1342.8,631.1 L1345.9,631.1 L1349.0,631.1 L1352.1,631.1 L1355.2,631.1 L1358.3,631.2 L1361.4,631.2 L1364.5,631.2 L1367.6,631.2 L1370.7,631.2 L1373.8,631.2 L1376.9,631.2 L1380.0,631.2 L1383.1,631.2 L1386.2,631.2 L1389.3,631.3 L1392.4,631.3 L1395.5,631.3 L1398.6,631.3 L1401.7,631.3 L1404.8,631.3 L1407.9,631.3 L1411.0,631.3 L1414.1,631.4 L1417.2,631.4 L1420.3,631.4 L1423.4,631.4 L1426.5,631.4 L1429.6,631.4 L1432.7,631.4 L1435.8,631.5 L1438.9,631.5 L1442.0,631.5 L1445.1,631.5 L1448.2,631.5 L1451.3,631.6 L1454.4,631.6 L1457.5,631.6 L1460.6,631.6 L1463.7,631.6 L1466.8,631.7 L1469.9,631.7 L1473.0,631.7 L1476.1,631.7 L1479.2,631.8 L1482.3,631.8 L1485.3,631.8 L1488.4,631.8 L1491.5,631.9 L1494.6,631.9 L1497.7,631.9 L1500.8,632.0 L1503.9,632.0 L1507.0,632.0 L1510.1,632.1 L1513.2,632.1 L1516.3,632.1 L1519.4,632.2 L1522.5,632.2 L1525.6,632.3 L1528.7,632.3 L1531.8,632.4 L1534.9,632.4 L1538.0,632.5 L1541.1,632.5 L1544.2,632.6 L1547.3,632.6 L1550.4,632.7 L1553.5,632.8 L1556.6,632.8 L1559.7,632.9 L1562.8,633.0 L1565.9,633.0 L1569.0,633.1 L1572.1,633.2 L1575.2,633.3 L1578.3,633.4 L1581.4,633.4 L1584.5,633.5 L1587.6,633.6 L1590.7,633.7 L1593.8,633.8 L1596.9,633.9 L1600.0,634.1 L1603.1,634.2 L1606.2,634.3 L1609.3,634.4 L1612.4,634.6 L1615.5,634.7 L1618.6,634.8 L1621.7,635.0 L1624.8,635.1 L1627.9,635.3 L1631.0,635.5 L1634.1,635.6 L1637.2,635.8 L1640.3,636.0 L1643.4,636.2 L1646.5,636.4 L1649.6,636.7 L1652.7,636.9 L1655.8,637.1 L1658.9,637.4 L1662.0,637.6 L1665.1,637.9 L1668.2,638.2 L1671.3,638.4 L1674.4,638.7 L1677.5,639.1 L1680.6,639.4 L1683.7,639.7 L1686.8,640.1 L1689.9,640.5 L1693.0,640.8 L1696.1,641.2 L1699.2,641.7 L1702.3,642.1 L1705.4,642.6 L1708.5,643.0 L1711.6,643.5 L1714.7,644.0 L1717.8,644.6 L1720.9,645.1 L1724.0,645.7 L1727.1,646.3 L1730.2,646.9 L1733.3,647.6 L1736.4,648.3 L1739.5,649.0 L1742.6,649.7 L1745.7,650.5 L1748.8,651.3 L1751.9,652.1 L1755.0,652.9 L1758.1,653.8 L1761.2,654.8 L1764.3,655.7 L1767.4,656.7 L1770.5,657.8 L1773.6,658.9 L1776.7,660.0 L1779.7,661.1 L1782.8,662.4 L1785.9,663.6 L1789.0,664.9 L1792.1,666.3 L1795.2,667.7 L1798.3,669.1 L1801.4,670.7 L1804.5,672.2 L1807.6,673.9 L1810.7,675.5 L1813.8,677.3 L1816.9,679.1 L1820.0,681.0 L1823.1,682.9 L1826.2,684.9 L1829.3,687.0 L1832.4,689.1 L1835.5,691.3 L1838.6,693.6 L1841.7,696.0 L1844.8,698.4 L1847.9,701.0 L1851.0,703.6 L1854.1,706.3 L1857.2,709.0 L1860.3,711.9 L1863.4,714.9 L1866.5,717.9 L1869.6,721.0 L1872.7,724.3 L1875.8,727.6 L1878.9,731.0 L1882.0,734.5 L1885.1,738.1 L1888.2,741.8 L1891.3,745.6 L1894.4,749.6 L1897.5,753.6 L1900.6,757.7 L1903.7,761.9 L1906.8,766.3 L1909.9,770.7 L1913.0,775.3 L1916.1,780.0 L1919.2,784.8 L1922.3,789.6 L1925.4,794.7 L1928.5,799.8 L1931.6,805.0 L1934.7,810.4 L1937.8,815.8 L1940.9,821.4 L1944.0,827.1 L1947.1,832.9 L1950.2,838.8 L1953.3,844.9 L1956.4,851.0 L1959.5,857.3 L1962.6,863.7 L1965.7,870.2 L1968.8,876.8 L1971.9,883.5 L1975.0,890.4 L1978.1,897.3 L1981.2,904.4 L1984.3,911.6 L1987.4,918.9 L1990.5,926.3 L1993.6,933.8 L1996.7,941.4 L1999.8,949.1 L2002.9,957.0 L2006.0,964.9" fill="none" stroke="#d95319" stroke-width="5.5" stroke-linejoin="round"/>
<path d="M149.7,799.6 L152.7,799.6 L155.7,799.6 L158.8,799.6 L161.8,799.6 L164.8,799.6 L167.8,799.6 L170.8,799.7 L173.8,799.7 L176.9,799.7 L179.9,799.7 L182.9,799.7 L185.9,799.7 L188.9,799.7 L192.0,799.7 L195.0,799.7 L198.0,799.7 L201.0,799.7 L204.0,799.7 L207.0,799.7 L210.1,799.7 L213.1,799.7 L216.1,799.7 L219.1,799.7 L222.1,799.7 L225.2,799.7 L228.2,799.7 L231.2,799.7 L234.2,799.7 L237.2,799.7 L240.2,799.7 L243.3,799.7 L246.3,799.7 L249.3,799.7 L252.3,799.7 L255.3,799.7 L258.3,799.7 L261.4,799.7 L264.4,799.7 L267.4,799.7 L270.4,799.7 L273.4,799.7 L276.5,799.8 L279.5,799.8 L282.5,799.8 L285.5,799.8 L288.5,799.8 L291.5,799.8 L294.6,799.8 L297.6,799.8 L300.6,799.8 L303.6,799.8 L306.6,799.8 L309.7,799.8 L312.7,799.8 L315.7,799.8 L318.7,799.8 L321.7,799.8 L324.7,799.8 L327.8,799.8 L330.8,799.8 L333.8,799.8 L336.8,799.8 L339.8,799.8 L342.9,799.8 L345.9,799.8 L348.9,799.8 L351.9,799.8 L354.9,799.8 L357.9,799.8 L361.0,799.8 L364.0,799.8 L367.0,799.8 L370.0,799.8 L373.0,799.8 L376.1,799.8 L379.1,799.8 L382.1,799.8 L385.1,799.9 L388.1,799.9 L391.1,799.9 L394.2,799.9 L397.2,799.9 L400.2,799.9 L403.2,799.9 L406.2,799.9 L409.3,799.9 L412.3,799.9 L415.3,799.9 L418.3,799.9 L421.3,799.9 L424.3,799.9 L427.4,799.9 L430.4,799.9 L433.4,799.9 L436.4,799.9 L439.4,799.9 L442.5,799.9 L445.5,799.9 L448.5,799.9 L451.5,799.9 L454.5,799.9 L457.5,799.9 L460.6,799.9 L463.6,799.9 L466.6,799.9 L469.6,799.9 L472.6,799.9 L475.6,799.9 L478.7,799.9 L481.7,799.9 L484.7,799.9 L487.7,799.9 L490.7,799.9 L493.8,800.0 L496.8,800.0 L499.8,800.0 L502.8,800.0 L505.8,800.0 L508.8,800.0 L511.9,800.0 L514.9,800.0 L517.9,800.0 L520.9,800.0 L523.9,800.0 L527.0,800.0 L530.0,800.0 L533.0,800.0 L536.0,800.0 L539.0,800.0 L542.0,800.0 L545.1,800.0 L548.1,800.0 L551.1,800.0 L554.1,800.0 L557.1,800.0 L560.2,800.0 L563.2,800.0 L566.2,800.0 L569.2,800.0 L572.2,800.0 L575.2,800.0 L578.3,800.0 L581.3,800.0 L584.3,800.0 L587.3,800.0 L590.3,800.0 L593.4,800.0 L596.4,800.0 L599.4,800.1 L602.4,800.1 L605.4,800.1 L608.4,800.1 L611.5,800.1 L614.5,800.1 L617.5,800.1 L620.5,800.1 L623.5,800.1 L626.6,800.1 L629.6,800.1 L632.6,800.1 L635.6,800.1 L638.6,800.1 L641.6,800.1 L644.7,800.1 L647.7,800.1 L650.7,800.1 L653.7,800.1 L656.7,800.1 L659.8,800.1 L662.8,800.1 L665.8,800.1 L668.8,800.1 L671.8,800.1 L674.8,800.1 L677.9,800.1 L680.9,800.1 L683.9,800.1 L686.9,800.1 L689.9,800.1 L692.9,800.1 L696.0,800.1 L699.0,800.1 L702.0,800.1 L705.0,800.1 L708.0,800.2 L711.1,800.2 L714.1,800.2 L717.1,800.2 L720.1,800.2 L723.1,800.2 L726.1,800.2 L729.2,800.2 L732.2,800.2 L735.2,800.2 L738.2,800.2 L741.2,800.2 L744.3,800.2 L747.3,800.2 L750.3,800.2 L753.3,800.2 L756.3,800.2 L759.3,800.2 L762.4,800.2 L765.4,800.2 L768.4,800.2 L771.4,800.2 L774.4,800.2 L777.5,800.2 L780.5,800.2 L783.5,800.2 L786.5,800.2 L789.5,800.2 L792.5,800.2 L795.6,800.2 L798.6,800.2 L801.6,800.2 L804.6,800.2 L807.6,800.2 L810.7,800.2 L813.7,800.2 L816.7,800.3 L819.7,800.3 L822.7,800.3 L825.7,800.3 L828.8,800.3 L831.8,800.3 L834.8,800.3 L837.8,800.3 L840.8,800.3 L843.9,800.3 L846.9,800.3 L849.9,800.3 L852.9,800.3 L855.9,800.3 L858.9,800.3 L862.0,800.3 L865.0,800.3 L868.0,800.3 L871.0,800.3 L874.0,800.3 L877.1,800.3 L880.1,800.3 L883.1,800.3 L886.1,800.3 L889.1,800.3 L892.1,800.3 L895.2,800.3 L898.2,800.3 L901.2,800.3 L904.2,800.3 L907.2,800.3 L910.2,800.3 L913.3,800.3 L916.3,800.3 L919.3,800.3 L922.3,800.3 L925.3,800.4 L928.4,800.4 L931.4,800.4 L934.4,800.4 L937.4,800.4 L940.4,800.4 L943.4,800.4 L946.5,800.4 L949.5,800.4 L952.5,800.4 L955.5,800.4 L958.5,800.4 L961.6,800.4 L964.6,800.4 L967.6,800.4 L970.6,800.4 L973.6,800.4 L976.6,800.4 L979.7,800.4 L982.7,800.4 L985.7,800.4 L988.7,800.4 L991.7,800.4 L994.8,800.4 L997.8,800.4 L1000.8,800.4 L1003.8,800.4 L1006.8,800.4 L1009.8,800.4 L1012.9,800.4 L1015.9,800.4 L1018.9,800.4 L1021.9,800.4 L1024.9,800.4 L1028.0,800.4 L1031.0,800.5 L1034.0,800.5 L1037.0,800.5 L1040.0,800.5 L1043.0,800.5 L1046.1,800.5 L1049.1,800.5 L1052.1,800.5 L1055.1,800.5 L1058.1,800.5 L1061.2,800.5 L1064.2,800.5 L1067.2,800.5 L1070.2,800.5 L1073.2,800.5 L1076.2,800.5 L1079.3,800.5 L1082.3,800.5 L1085.3,800.5 L1088.3,800.5 L1091.3,800.5 L1094.3,800.5 L1097.4,800.5 L1100.4,800.5 L1103.4,800.5 L1106.4,800.5 L1109.4,800.5 L1112.5,800.5 L1115.5,800.5 L1118.5,800.5 L1121.5,800.5 L1124.5,800.5 L1127.5,800.5 L1130.6,800.5 L1133.6,800.5 L1136.6,800.6 L1139.6,800.6 L1142.6,800.6 L1145.7,800.6 L1148.7,800.6 L1151.7,800.6 L1154.7,800.6 L1157.7,800.6 L1160.7,800.6 L1163.8,800.6 L1166.8,800.6 L1169.8,800.6 L1172.8,800.6 L1175.8,800.6 L1178.9,800.6 L1181.9,800.6 L1184.9,800.6 L1187.9,800.6 L1190.9,800.6 L1193.9,800.6 L1197.0,800.6 L1200.0,800.6 L1203.0,800.6 L1206.0,800.6 L1209.0,800.6 L1212.1,800.6 L1215.1,800.6 L1218.1,800.6 L1221.1,800.6 L1224.1,800.6 L1227.1,800.6 L1230.2,800.6 L1233.2,800.6 L1236.2,800.7 L1239.2,800.7 L1242.2,800.7 L1245.3,800.7 L1248.3,800.7 L1251.3,800.7 L1254.3,800.7 L1257.3,800.7 L1260.3,800.7 L1263.4,800.7 L1266.4,800.7 L1269.4,800.7 L1272.4,800.7 L1275.4,800.7 L1278.5,800.7 L1281.5,800.7 L1284.5,800.7 L1287.5,800.7 L1290.5,800.7 L1293.5,800.7 L1296.6,800.7 L1299.6,800.7 L1302.6,800.7 L1305.6,800.7 L1308.6,800.7 L1311.6,800.7 L1314.7,800.7 L1317.7,800.7 L1320.7,800.8 L1323.7,800.8 L1326.7,800.8 L1329.8,800.8 L1332.8,800.8 L1335.8,800.8 L1338.8,800.8 L1341.8,800.8 L1344.8,800.8 L1347.9,800.8 L1350.9,800.8 L1353.9,800.8 L1356.9,800.8 L1359.9,800.8 L1363.0,800.8 L1366.0,800.8 L1369.0,800.8 L1372.0,800.8 L1375.0,800.8 L1378.0,800.8 L1381.1,800.9 L1384.1,800.9 L1387.1,800.9 L1390.1,800.9 L1393.1,800.9 L1396.2,800.9 L1399.2,800.9 L1402.2,800.9 L1405.2,800.9 L1408.2,800.9 L1411.2,800.9 L1414.3,800.9 L1417.3,800.9 L1420.3,801.0 L1423.3,801.0 L1426.3,801.0 L1429.4,801.0 L1432.4,801.0 L1435.4,801.0 L1438.4,801.0 L1441.4,801.0 L1444.4,801.0 L1447.5,801.0 L1450.5,801.1 L1453.5,801.1 L1456.5,801.1 L1459.5,801.1 L1462.6,801.1 L1465.6,801.1 L1468.6,801.1 L1471.6,801.1 L1474.6,801.2 L1477.6,801.2 L1480.7,801.2 L1483.7,801.2 L1486.7,801.2 L1489.7,801.2 L1492.7,801.3 L1495.8,801.3 L1498.8,801.3 L1501.8,801.3 L1504.8,801.3 L1507.8,801.4 L1510.8,801.4 L1513.9,801.4 L1516.9,801.4 L1519.9,801.5 L1522.9,801.5 L1525.9,801.5 L1528.9,801.5 L1532.0,801.6 L1535.0,801.6 L1538.0,801.6 L1541.0,801.7 L1544.0,801.7 L1547.1,801.7 L1550.1,801.8 L1553.1,801.8 L1556.1,801.9 L1559.1,801.9 L1562.1,801.9 L1565.2,802.0 L1568.2,802.0 L1571.2,802.1 L1574.2,802.1 L1577.2,802.2 L1580.3,802.2 L1583.3,802.3 L1586.3,802.4 L1589.3,802.4 L1592.3,802.5 L1595.3,802.6 L1598.4,802.6 L1601.4,802.7 L1604.4,802.8 L1607.4,802.9 L1610.4,802.9 L1613.5,803.0 L1616.5,803.1 L1619.5,803.2 L1622.5,803.3 L1625.5,803.4 L1628.5,803.5 L1631.6,803.6 L1634.6,803.8 L1637.6,803.9 L1640.6,804.0 L1643.6,804.1 L1646.7,804.3 L1649.7,804.4 L1652.7,804.5 L1655.7,804.7 L1658.7,804.9 L1661.7,805.0 L1664.8,805.2 L1667.8,805.4 L1670.8,805.6 L1673.8,805.8 L1676.8,806.0 L1679.9,806.2 L1682.9,806.4 L1685.9,806.6 L1688.9,806.9 L1691.9,807.1 L1694.9,807.4 L1698.0,807.6 L1701.0,807.9 L1704.0,808.2 L1707.0,808.5 L1710.0,808.8 L1713.0,809.2 L1716.1,809.5 L1719.1,809.9 L1722.1,810.3 L1725.1,810.6 L1728.1,811.0 L1731.2,811.5 L1734.2,811.9 L1737.2,812.4 L1740.2,812.8 L1743.2,813.3 L1746.2,813.8 L1749.3,814.4 L1752.3,814.9 L1755.3,815.5 L1758.3,816.1 L1761.3,816.7 L1764.4,817.4 L1767.4,818.0 L1770.4,818.7 L1773.4,819.5 L1776.4,820.2 L1779.4,821.0 L1782.5,821.8 L1785.5,822.7 L1788.5,823.6 L1791.5,824.5 L1794.5,825.4 L1797.6,826.4 L1800.6,827.5 L1803.6,828.5 L1806.6,829.6 L1809.6,830.8 L1812.6,832.0 L1815.7,833.2 L1818.7,834.5 L1821.7,835.8 L1824.7,837.2 L1827.7,838.6 L1830.8,840.1 L1833.8,841.6 L1836.8,843.2 L1839.8,844.8 L1842.8,846.5 L1845.8,848.3 L1848.9,850.1 L1851.9,852.0 L1854.9,853.9 L1857.9,855.9 L1860.9,858.0 L1864.0,860.1 L1867.0,862.3 L1870.0,864.6 L1873.0,867.0 L1876.0,869.4 L1879.0,871.9 L1882.1,874.5 L1885.1,877.2 L1888.1,879.9 L1891.1,882.8 L1894.1,885.7 L1897.2,888.7 L1900.2,891.8 L1903.2,895.0 L1906.2,898.2 L1909.2,901.6 L1912.2,905.0 L1915.3,908.6 L1918.3,912.2 L1921.3,916.0 L1924.3,919.8 L1927.3,923.8 L1930.3,927.8 L1933.4,932.0 L1936.4,936.2 L1939.4,940.5 L1942.4,945.0 L1945.4,949.6 L1948.5,954.2 L1951.5,959.0 L1954.5,963.9 L1957.5,968.8" fill="none" stroke="#bf00bf" stroke-width="5.5" stroke-linejoin="round"/>
<text x="277.2" y="104.7" font-family="Liberation Sans, Arial, sans-serif" font-size="45.5" fill="#ff0000" stroke="#ff0000" stroke-width="0.9">1 kW/m</text>
<text x="430.8" y="84.3" font-family="Liberation Sans, Arial, sans-serif" font-size="37" fill="#ff0000" stroke="#ff0000" stroke-width="0.8">2</text>
<text x="275.9" y="273.4" font-family="Liberation Sans, Arial, sans-serif" font-size="45.5" fill="#0000ff" stroke="#0000ff" stroke-width="0.9">0.8 kW/m</text>
<text x="468" y="252.4" font-family="Liberation Sans, Arial, sans-serif" font-size="37" fill="#0000ff" stroke="#0000ff" stroke-width="0.8">2</text>
<text x="275.9" y="444" font-family="Liberation Sans, Arial, sans-serif" font-size="45.5" fill="#000000" stroke="#000000" stroke-width="0.9">0.6 kW/m</text>
<text x="468" y="422.9" font-family="Liberation Sans, Arial, sans-serif" font-size="37" fill="#000000" stroke="#000000" stroke-width="0.8">2</text>
<text x="275.9" y="612" font-family="Liberation Sans, Arial, sans-serif" font-size="45.5" fill="#d95319" stroke="#d95319" stroke-width="0.9">0.4 kW/m</text>
<text x="468" y="591.5" font-family="Liberation Sans, Arial, sans-serif" font-size="37" fill="#d95319" stroke="#d95319" stroke-width="0.8">2</text>
<text x="275.9" y="783.1" font-family="Liberation Sans, Arial, sans-serif" font-size="45.5" fill="#bf00bf" stroke="#bf00bf" stroke-width="0.9">0.2 kW/m</text>
<text x="468" y="762.2" font-family="Liberation Sans, Arial, sans-serif" font-size="37" fill="#bf00bf" stroke="#bf00bf" stroke-width="0.8">2</text>
</g>
<g font-family="Liberation Serif, serif" fill="#000">
<text x="1123" y="1081" font-size="58" textLength="268" lengthAdjust="spacingAndGlyphs">Voltage (V)</text>
<text x="1173" y="1131" font-size="56" textLength="58" lengthAdjust="spacingAndGlyphs">(a)</text>
<text transform="translate(60.5,597.5) rotate(-90)" x="0" y="0" font-size="60" textLength="274" lengthAdjust="spacingAndGlyphs">Current (A)</text>
<text x="1154" y="2397.5" font-size="59" textLength="276" lengthAdjust="spacingAndGlyphs">Voltage (V)</text>
<text x="1214" y="2468" font-size="58" textLength="63" lengthAdjust="spacingAndGlyphs">(b)</text>
<text transform="translate(77,1874.5) rotate(-90)" x="0" y="0" font-size="60" textLength="258.5" lengthAdjust="spacingAndGlyphs">Power (W)</text>
</g>
<g>
<rect x="180" y="1324" width="2140" height="4" fill="#aaaaaa"/>
<rect x="180" y="2266" width="2140" height="4" fill="#aaaaaa"/>
<rect x="180" y="1328" width="4" height="938" fill="#d0d0d0"/>
<rect x="2316" y="1328" width="4" height="938" fill="#cccccc"/>
<rect x="176" y="1320" width="2148" height="4" fill="#999999"/>
<rect x="176" y="2270" width="2148" height="4" fill="#9a9a9a"/>
<rect x="176" y="1320" width="4" height="954" fill="#808080"/>
<rect x="2320" y="1320" width="4" height="954" fill="#808080"/>
<rect x="602.8" y="2250" width="4" height="16" fill="#cccccc"/>
<rect x="606.8" y="2250" width="4" height="16" fill="#808080"/>
<rect x="602.8" y="1328" width="4" height="18" fill="#d0d0d0"/>
<rect x="606.8" y="1328" width="4" height="16" fill="#808080"/>
<rect x="1030.8" y="2250" width="4" height="16" fill="#cccccc"/>
<rect x="1034.8" y="2250" width="4" height="16" fill="#808080"/>
<rect x="1030.8" y="1328" width="4" height="18" fill="#d0d0d0"/>
<rect x="1034.8" y="1328" width="4" height="16" fill="#808080"/>
<rect x="1458.9" y="2250" width="4" height="16" fill="#cccccc"/>
<rect x="1462.9" y="2250" width="4" height="16" fill="#808080"/>
<rect x="1458.9" y="1328" width="4" height="18" fill="#d0d0d0"/>
<rect x="1462.9" y="1328" width="4" height="16" fill="#808080"/>
<rect x="1887.0" y="2250" width="4" height="16" fill="#cccccc"/>
<rect x="1891.0" y="2250" width="4" height="16" fill="#808080"/>
<rect x="1887.0" y="1328" width="4" height="18" fill="#d0d0d0"/>
<rect x="1891.0" y="1328" width="4" height="16" fill="#808080"/>
<rect x="184" y="2051.7" width="20" height="4" fill="#8c8c8c"/>
<rect x="184" y="2055.7" width="20" height="3" fill="#b4b4b4"/>
<rect x="2296" y="2051.7" width="20" height="4" fill="#7a7a7a"/>
<rect x="2296" y="2055.7" width="20" height="3" fill="#dddddd"/>
<rect x="184" y="1836.3" width="20" height="4" fill="#8c8c8c"/>
<rect x="184" y="1840.3" width="20" height="3" fill="#b4b4b4"/>
<rect x="2296" y="1836.3" width="20" height="4" fill="#7a7a7a"/>
<rect x="2296" y="1840.3" width="20" height="3" fill="#dddddd"/>
<rect x="184" y="1621.0" width="20" height="4" fill="#8c8c8c"/>
<rect x="184" y="1625.0" width="20" height="3" fill="#b4b4b4"/>
<rect x="2296" y="1621.0" width="20" height="4" fill="#7a7a7a"/>
<rect x="2296" y="1625.0" width="20" height="3" fill="#dddddd"/>
<rect x="184" y="1405.6" width="20" height="4" fill="#8c8c8c"/>
<rect x="184" y="1409.6" width="20" height="3" fill="#b4b4b4"/>
<rect x="2296" y="1405.6" width="20" height="4" fill="#7a7a7a"/>
<rect x="2296" y="1409.6" width="20" height="3" fill="#dddddd"/>
<g font-family="Liberation Sans, Arial, sans-serif" font-size="44" fill="#555">
<text x="180.7" y="2330.75" text-anchor="middle">0</text>
<text x="608.8" y="2330.75" text-anchor="middle">5</text>
<text x="1036.8" y="2330.75" text-anchor="middle">10</text>
<text x="1464.9" y="2330.75" text-anchor="middle">15</text>
<text x="1893.0" y="2330.75" text-anchor="middle">20</text>
<text x="2321.0" y="2330.75" text-anchor="middle">25</text>
<text x="165.5" y="2287.8" text-anchor="end">0</text>
<text x="165.5" y="2072.4" text-anchor="end">5</text>
<text x="165.5" y="1857.0" text-anchor="end">10</text>
<text x="165.5" y="1641.7" text-anchor="end">15</text>
<text x="165.5" y="1426.3" text-anchor="end">20</text>
</g>
<path d="M180.7,2270.5 L183.9,2268.6 L187.1,2266.8 L190.3,2264.9 L193.4,2263.1 L196.6,2261.2 L199.8,2259.3 L203.0,2257.5 L206.2,2255.6 L209.4,2253.8 L212.5,2251.9 L215.7,2250.1 L218.9,2248.2 L222.1,2246.3 L225.3,2244.5 L228.5,2242.6 L231.7,2240.8 L234.8,2238.9 L238.0,2237.0 L241.2,2235.2 L244.4,2233.3 L247.6,2231.5 L250.8,2229.6 L253.9,2227.8 L257.1,2225.9 L260.3,2224.0 L263.5,2222.2 L266.7,2220.3 L269.9,2218.5 L273.1,2216.6 L276.2,2214.8 L279.4,2212.9 L282.6,2211.0 L285.8,2209.2 L289.0,2207.3 L292.2,2205.5 L295.3,2203.6 L298.5,2201.8 L301.7,2199.9 L304.9,2198.0 L308.1,2196.2 L311.3,2194.3 L314.5,2192.5 L317.6,2190.6 L320.8,2188.8 L324.0,2186.9 L327.2,2185.1 L330.4,2183.2 L333.6,2181.3 L336.7,2179.5 L339.9,2177.6 L343.1,2175.8 L346.3,2173.9 L349.5,2172.1 L352.7,2170.2 L355.9,2168.4 L359.0,2166.5 L362.2,2164.6 L365.4,2162.8 L368.6,2160.9 L371.8,2159.1 L375.0,2157.2 L378.1,2155.4 L381.3,2153.5 L384.5,2151.7 L387.7,2149.8 L390.9,2147.9 L394.1,2146.1 L397.3,2144.2 L400.4,2142.4 L403.6,2140.5 L406.8,2138.7 L410.0,2136.8 L413.2,2135.0 L416.4,2133.1 L419.5,2131.3 L422.7,2129.4 L425.9,2127.6 L429.1,2125.7 L432.3,2123.8 L435.5,2122.0 L438.7,2120.1 L441.8,2118.3 L445.0,2116.4 L448.2,2114.6 L451.4,2112.7 L454.6,2110.9 L457.8,2109.0 L460.9,2107.2 L464.1,2105.3 L467.3,2103.5 L470.5,2101.6 L473.7,2099.7 L476.9,2097.9 L480.1,2096.0 L483.2,2094.2 L486.4,2092.3 L489.6,2090.5 L492.8,2088.6 L496.0,2086.8 L499.2,2084.9 L502.3,2083.1 L505.5,2081.2 L508.7,2079.4 L511.9,2077.5 L515.1,2075.7 L518.3,2073.8 L521.5,2072.0 L524.6,2070.1 L527.8,2068.3 L531.0,2066.4 L534.2,2064.6 L537.4,2062.7 L540.6,2060.8 L543.7,2059.0 L546.9,2057.1 L550.1,2055.3 L553.3,2053.4 L556.5,2051.6 L559.7,2049.7 L562.9,2047.9 L566.0,2046.0 L569.2,2044.2 L572.4,2042.3 L575.6,2040.5 L578.8,2038.6 L582.0,2036.8 L585.1,2034.9 L588.3,2033.1 L591.5,2031.2 L594.7,2029.4 L597.9,2027.5 L601.1,2025.7 L604.2,2023.8 L607.4,2022.0 L610.6,2020.1 L613.8,2018.3 L617.0,2016.4 L620.2,2014.6 L623.4,2012.7 L626.5,2010.9 L629.7,2009.0 L632.9,2007.2 L636.1,2005.3 L639.3,2003.5 L642.5,2001.6 L645.6,1999.8 L648.8,1997.9 L652.0,1996.1 L655.2,1994.2 L658.4,1992.4 L661.6,1990.5 L664.8,1988.7 L667.9,1986.8 L671.1,1985.0 L674.3,1983.1 L677.5,1981.3 L680.7,1979.4 L683.9,1977.6 L687.0,1975.7 L690.2,1973.9 L693.4,1972.0 L696.6,1970.2 L699.8,1968.3 L703.0,1966.5 L706.2,1964.7 L709.3,1962.8 L712.5,1961.0 L715.7,1959.1 L718.9,1957.3 L722.1,1955.4 L725.3,1953.6 L728.4,1951.7 L731.6,1949.9 L734.8,1948.0 L738.0,1946.2 L741.2,1944.3 L744.4,1942.5 L747.6,1940.6 L750.7,1938.8 L753.9,1936.9 L757.1,1935.1 L760.3,1933.2 L763.5,1931.4 L766.7,1929.5 L769.8,1927.7 L773.0,1925.9 L776.2,1924.0 L779.4,1922.2 L782.6,1920.3 L785.8,1918.5 L789.0,1916.6 L792.1,1914.8 L795.3,1912.9 L798.5,1911.1 L801.7,1909.2 L804.9,1907.4 L808.1,1905.5 L811.2,1903.7 L814.4,1901.8 L817.6,1900.0 L820.8,1898.2 L824.0,1896.3 L827.2,1894.5 L830.4,1892.6 L833.5,1890.8 L836.7,1888.9 L839.9,1887.1 L843.1,1885.2 L846.3,1883.4 L849.5,1881.5 L852.6,1879.7 L855.8,1877.9 L859.0,1876.0 L862.2,1874.2 L865.4,1872.3 L868.6,1870.5 L871.8,1868.6 L874.9,1866.8 L878.1,1864.9 L881.3,1863.1 L884.5,1861.2 L887.7,1859.4 L890.9,1857.6 L894.0,1855.7 L897.2,1853.9 L900.4,1852.0 L903.6,1850.2 L906.8,1848.3 L910.0,1846.5 L913.2,1844.6 L916.3,1842.8 L919.5,1841.0 L922.7,1839.1 L925.9,1837.3 L929.1,1835.4 L932.3,1833.6 L935.4,1831.7 L938.6,1829.9 L941.8,1828.1 L945.0,1826.2 L948.2,1824.4 L951.4,1822.5 L954.6,1820.7 L957.7,1818.8 L960.9,1817.0 L964.1,1815.2 L967.3,1813.3 L970.5,1811.5 L973.7,1809.6 L976.8,1807.8 L980.0,1805.9 L983.2,1804.1 L986.4,1802.3 L989.6,1800.4 L992.8,1798.6 L996.0,1796.7 L999.1,1794.9 L1002.3,1793.0 L1005.5,1791.2 L1008.7,1789.4 L1011.9,1787.5 L1015.1,1785.7 L1018.2,1783.8 L1021.4,1782.0 L1024.6,1780.1 L1027.8,1778.3 L1031.0,1776.5 L1034.2,1774.6 L1037.4,1772.8 L1040.5,1770.9 L1043.7,1769.1 L1046.9,1767.3 L1050.1,1765.4 L1053.3,1763.6 L1056.5,1761.7 L1059.6,1759.9 L1062.8,1758.0 L1066.0,1756.2 L1069.2,1754.4 L1072.4,1752.5 L1075.6,1750.7 L1078.8,1748.8 L1081.9,1747.0 L1085.1,1745.2 L1088.3,1743.3 L1091.5,1741.5 L1094.7,1739.6 L1097.9,1737.8 L1101.0,1736.0 L1104.2,1734.1 L1107.4,1732.3 L1110.6,1730.4 L1113.8,1728.6 L1117.0,1726.8 L1120.2,1724.9 L1123.3,1723.1 L1126.5,1721.2 L1129.7,1719.4 L1132.9,1717.6 L1136.1,1715.7 L1139.3,1713.9 L1142.4,1712.0 L1145.6,1710.2 L1148.8,1708.4 L1152.0,1706.5 L1155.2,1704.7 L1158.4,1702.9 L1161.6,1701.0 L1164.7,1699.2 L1167.9,1697.3 L1171.1,1695.5 L1174.3,1693.7 L1177.5,1691.8 L1180.7,1690.0 L1183.8,1688.1 L1187.0,1686.3 L1190.2,1684.5 L1193.4,1682.6 L1196.6,1680.8 L1199.8,1679.0 L1203.0,1677.1 L1206.1,1675.3 L1209.3,1673.4 L1212.5,1671.6 L1215.7,1669.8 L1218.9,1667.9 L1222.1,1666.1 L1225.2,1664.3 L1228.4,1662.4 L1231.6,1660.6 L1234.8,1658.8 L1238.0,1656.9 L1241.2,1655.1 L1244.4,1653.2 L1247.5,1651.4 L1250.7,1649.6 L1253.9,1647.7 L1257.1,1645.9 L1260.3,1644.1 L1263.5,1642.2 L1266.6,1640.4 L1269.8,1638.6 L1273.0,1636.7 L1276.2,1634.9 L1279.4,1633.1 L1282.6,1631.2 L1285.8,1629.4 L1288.9,1627.6 L1292.1,1625.7 L1295.3,1623.9 L1298.5,1622.1 L1301.7,1620.2 L1304.9,1618.4 L1308.0,1616.6 L1311.2,1614.7 L1314.4,1612.9 L1317.6,1611.1 L1320.8,1609.2 L1324.0,1607.4 L1327.2,1605.6 L1330.3,1603.7 L1333.5,1601.9 L1336.7,1600.1 L1339.9,1598.3 L1343.1,1596.4 L1346.3,1594.6 L1349.4,1592.8 L1352.6,1590.9 L1355.8,1589.1 L1359.0,1587.3 L1362.2,1585.5 L1365.4,1583.6 L1368.5,1581.8 L1371.7,1580.0 L1374.9,1578.2 L1378.1,1576.3 L1381.3,1574.5 L1384.5,1572.7 L1387.7,1570.9 L1390.8,1569.0 L1394.0,1567.2 L1397.2,1565.4 L1400.4,1563.6 L1403.6,1561.8 L1406.8,1560.0 L1409.9,1558.1 L1413.1,1556.3 L1416.3,1554.5 L1419.5,1552.7 L1422.7,1550.9 L1425.9,1549.1 L1429.1,1547.3 L1432.2,1545.4 L1435.4,1543.6 L1438.6,1541.8 L1441.8,1540.0 L1445.0,1538.2 L1448.2,1536.4 L1451.3,1534.6 L1454.5,1532.8 L1457.7,1531.0 L1460.9,1529.2 L1464.1,1527.4 L1467.3,1525.6 L1470.5,1523.8 L1473.6,1522.1 L1476.8,1520.3 L1480.0,1518.5 L1483.2,1516.7 L1486.4,1514.9 L1489.6,1513.2 L1492.7,1511.4 L1495.9,1509.6 L1499.1,1507.8 L1502.3,1506.1 L1505.5,1504.3 L1508.7,1502.6 L1511.9,1500.8 L1515.0,1499.1 L1518.2,1497.3 L1521.4,1495.6 L1524.6,1493.8 L1527.8,1492.1 L1531.0,1490.4 L1534.1,1488.6 L1537.3,1486.9 L1540.5,1485.2 L1543.7,1483.5 L1546.9,1481.8 L1550.1,1480.1 L1553.3,1478.4 L1556.4,1476.7 L1559.6,1475.1 L1562.8,1473.4 L1566.0,1471.7 L1569.2,1470.1 L1572.4,1468.4 L1575.5,1466.8 L1578.7,1465.2 L1581.9,1463.6 L1585.1,1462.0 L1588.3,1460.4 L1591.5,1458.8 L1594.7,1457.2 L1597.8,1455.7 L1601.0,1454.1 L1604.2,1452.6 L1607.4,1451.1 L1610.6,1449.6 L1613.8,1448.1 L1616.9,1446.6 L1620.1,1445.1 L1623.3,1443.7 L1626.5,1442.3 L1629.7,1440.9 L1632.9,1439.5 L1636.1,1438.1 L1639.2,1436.8 L1642.4,1435.5 L1645.6,1434.2 L1648.8,1432.9 L1652.0,1431.7 L1655.2,1430.5 L1658.3,1429.3 L1661.5,1428.1 L1664.7,1427.0 L1667.9,1425.9 L1671.1,1424.8 L1674.3,1423.8 L1677.5,1422.8 L1680.6,1421.8 L1683.8,1420.9 L1687.0,1420.0 L1690.2,1419.2 L1693.4,1418.4 L1696.6,1417.6 L1699.7,1416.9 L1702.9,1416.2 L1706.1,1415.6 L1709.3,1415.0 L1712.5,1414.5 L1715.7,1414.1 L1718.9,1413.7 L1722.0,1413.4 L1725.2,1413.1 L1728.4,1412.9 L1731.6,1412.7 L1734.8,1412.7 L1738.0,1412.7 L1741.1,1412.7 L1744.3,1412.9 L1747.5,1413.1 L1750.7,1413.4 L1753.9,1413.8 L1757.1,1414.3 L1760.3,1414.8 L1763.4,1415.5 L1766.6,1416.2 L1769.8,1417.1 L1773.0,1418.0 L1776.2,1419.0 L1779.4,1420.2 L1782.5,1421.4 L1785.7,1422.8 L1788.9,1424.2 L1792.1,1425.8 L1795.3,1427.5 L1798.5,1429.4 L1801.7,1431.3 L1804.8,1433.4 L1808.0,1435.6 L1811.2,1437.9 L1814.4,1440.3 L1817.6,1442.9 L1820.8,1445.7 L1823.9,1448.5 L1827.1,1451.5 L1830.3,1454.7 L1833.5,1458.0 L1836.7,1461.4 L1839.9,1465.0 L1843.1,1468.8 L1846.2,1472.7 L1849.4,1476.8 L1852.6,1481.0 L1855.8,1485.4 L1859.0,1489.9 L1862.2,1494.6 L1865.3,1499.5 L1868.5,1504.5 L1871.7,1509.7 L1874.9,1515.1 L1878.1,1520.6 L1881.3,1526.3 L1884.5,1532.2 L1887.6,1538.2 L1890.8,1544.5 L1894.0,1550.9 L1897.2,1557.4 L1900.4,1564.2 L1903.6,1571.1 L1906.7,1578.2 L1909.9,1585.4 L1913.1,1592.9 L1916.3,1600.5 L1919.5,1608.3 L1922.7,1616.2 L1925.9,1624.4 L1929.0,1632.7 L1932.2,1641.2 L1935.4,1649.8 L1938.6,1658.7 L1941.8,1667.7 L1945.0,1676.8 L1948.1,1686.2 L1951.3,1695.7 L1954.5,1705.4 L1957.7,1715.3 L1960.9,1725.3 L1964.1,1735.5 L1967.3,1745.9 L1970.4,1756.4 L1973.6,1767.2 L1976.8,1778.0 L1980.0,1789.1 L1983.2,1800.3 L1986.4,1811.6 L1989.5,1823.2 L1992.7,1834.9 L1995.9,1846.7 L1999.1,1858.8 L2002.3,1870.9 L2005.5,1883.3 L2008.7,1895.8 L2011.8,1908.4 L2015.0,1921.2 L2018.2,1934.2 L2021.4,1947.3 L2024.6,1960.6 L2027.8,1974.0 L2030.9,1987.6 L2034.1,2001.3 L2037.3,2015.2 L2040.5,2029.2 L2043.7,2043.4 L2046.9,2057.7 L2050.1,2072.1 L2053.2,2086.7 L2056.4,2101.5 L2059.6,2116.4 L2062.8,2131.4 L2066.0,2146.6 L2069.2,2161.9 L2072.3,2177.4 L2075.5,2193.0 L2078.7,2208.7 L2081.9,2224.6 L2085.1,2240.6 L2088.3,2256.7" fill="none" stroke="#ff3030" stroke-width="4.5" stroke-linejoin="round"/>
<path d="M180.7,2270.5 L183.9,2269.0 L187.0,2267.5 L190.2,2266.1 L193.3,2264.6 L196.5,2263.1 L199.7,2261.6 L202.8,2260.2 L206.0,2258.7 L209.1,2257.2 L212.3,2255.7 L215.5,2254.3 L218.6,2252.8 L221.8,2251.3 L224.9,2249.8 L228.1,2248.4 L231.3,2246.9 L234.4,2245.4 L237.6,2243.9 L240.7,2242.5 L243.9,2241.0 L247.1,2239.5 L250.2,2238.0 L253.4,2236.6 L256.6,2235.1 L259.7,2233.6 L262.9,2232.1 L266.0,2230.7 L269.2,2229.2 L272.4,2227.7 L275.5,2226.2 L278.7,2224.8 L281.8,2223.3 L285.0,2221.8 L288.2,2220.3 L291.3,2218.9 L294.5,2217.4 L297.6,2215.9 L300.8,2214.4 L304.0,2213.0 L307.1,2211.5 L310.3,2210.0 L313.4,2208.5 L316.6,2207.1 L319.8,2205.6 L322.9,2204.1 L326.1,2202.7 L329.2,2201.2 L332.4,2199.7 L335.6,2198.2 L338.7,2196.8 L341.9,2195.3 L345.0,2193.8 L348.2,2192.3 L351.4,2190.9 L354.5,2189.4 L357.7,2187.9 L360.8,2186.4 L364.0,2185.0 L367.2,2183.5 L370.3,2182.0 L373.5,2180.6 L376.6,2179.1 L379.8,2177.6 L383.0,2176.1 L386.1,2174.7 L389.3,2173.2 L392.4,2171.7 L395.6,2170.2 L398.8,2168.8 L401.9,2167.3 L405.1,2165.8 L408.3,2164.4 L411.4,2162.9 L414.6,2161.4 L417.7,2159.9 L420.9,2158.5 L424.1,2157.0 L427.2,2155.5 L430.4,2154.0 L433.5,2152.6 L436.7,2151.1 L439.9,2149.6 L443.0,2148.2 L446.2,2146.7 L449.3,2145.2 L452.5,2143.7 L455.7,2142.3 L458.8,2140.8 L462.0,2139.3 L465.1,2137.9 L468.3,2136.4 L471.5,2134.9 L474.6,2133.4 L477.8,2132.0 L480.9,2130.5 L484.1,2129.0 L487.3,2127.6 L490.4,2126.1 L493.6,2124.6 L496.7,2123.1 L499.9,2121.7 L503.1,2120.2 L506.2,2118.7 L509.4,2117.3 L512.5,2115.8 L515.7,2114.3 L518.9,2112.8 L522.0,2111.4 L525.2,2109.9 L528.3,2108.4 L531.5,2107.0 L534.7,2105.5 L537.8,2104.0 L541.0,2102.6 L544.1,2101.1 L547.3,2099.6 L550.5,2098.1 L553.6,2096.7 L556.8,2095.2 L560.0,2093.7 L563.1,2092.3 L566.3,2090.8 L569.4,2089.3 L572.6,2087.9 L575.8,2086.4 L578.9,2084.9 L582.1,2083.4 L585.2,2082.0 L588.4,2080.5 L591.6,2079.0 L594.7,2077.6 L597.9,2076.1 L601.0,2074.6 L604.2,2073.2 L607.4,2071.7 L610.5,2070.2 L613.7,2068.7 L616.8,2067.3 L620.0,2065.8 L623.2,2064.3 L626.3,2062.9 L629.5,2061.4 L632.6,2059.9 L635.8,2058.5 L639.0,2057.0 L642.1,2055.5 L645.3,2054.1 L648.4,2052.6 L651.6,2051.1 L654.8,2049.7 L657.9,2048.2 L661.1,2046.7 L664.2,2045.2 L667.4,2043.8 L670.6,2042.3 L673.7,2040.8 L676.9,2039.4 L680.0,2037.9 L683.2,2036.4 L686.4,2035.0 L689.5,2033.5 L692.7,2032.0 L695.8,2030.6 L699.0,2029.1 L702.2,2027.6 L705.3,2026.2 L708.5,2024.7 L711.7,2023.2 L714.8,2021.8 L718.0,2020.3 L721.1,2018.8 L724.3,2017.4 L727.5,2015.9 L730.6,2014.4 L733.8,2013.0 L736.9,2011.5 L740.1,2010.0 L743.3,2008.6 L746.4,2007.1 L749.6,2005.6 L752.7,2004.2 L755.9,2002.7 L759.1,2001.2 L762.2,1999.8 L765.4,1998.3 L768.5,1996.8 L771.7,1995.4 L774.9,1993.9 L778.0,1992.4 L781.2,1991.0 L784.3,1989.5 L787.5,1988.0 L790.7,1986.6 L793.8,1985.1 L797.0,1983.6 L800.1,1982.2 L803.3,1980.7 L806.5,1979.2 L809.6,1977.8 L812.8,1976.3 L815.9,1974.8 L819.1,1973.4 L822.3,1971.9 L825.4,1970.4 L828.6,1969.0 L831.7,1967.5 L834.9,1966.0 L838.1,1964.6 L841.2,1963.1 L844.4,1961.6 L847.6,1960.2 L850.7,1958.7 L853.9,1957.2 L857.0,1955.8 L860.2,1954.3 L863.4,1952.8 L866.5,1951.4 L869.7,1949.9 L872.8,1948.4 L876.0,1947.0 L879.2,1945.5 L882.3,1944.1 L885.5,1942.6 L888.6,1941.1 L891.8,1939.7 L895.0,1938.2 L898.1,1936.7 L901.3,1935.3 L904.4,1933.8 L907.6,1932.3 L910.8,1930.9 L913.9,1929.4 L917.1,1927.9 L920.2,1926.5 L923.4,1925.0 L926.6,1923.6 L929.7,1922.1 L932.9,1920.6 L936.0,1919.2 L939.2,1917.7 L942.4,1916.2 L945.5,1914.8 L948.7,1913.3 L951.8,1911.8 L955.0,1910.4 L958.2,1908.9 L961.3,1907.5 L964.5,1906.0 L967.6,1904.5 L970.8,1903.1 L974.0,1901.6 L977.1,1900.1 L980.3,1898.7 L983.4,1897.2 L986.6,1895.7 L989.8,1894.3 L992.9,1892.8 L996.1,1891.4 L999.3,1889.9 L1002.4,1888.4 L1005.6,1887.0 L1008.7,1885.5 L1011.9,1884.0 L1015.1,1882.6 L1018.2,1881.1 L1021.4,1879.7 L1024.5,1878.2 L1027.7,1876.7 L1030.9,1875.3 L1034.0,1873.8 L1037.2,1872.3 L1040.3,1870.9 L1043.5,1869.4 L1046.7,1868.0 L1049.8,1866.5 L1053.0,1865.0 L1056.1,1863.6 L1059.3,1862.1 L1062.5,1860.6 L1065.6,1859.2 L1068.8,1857.7 L1071.9,1856.3 L1075.1,1854.8 L1078.3,1853.3 L1081.4,1851.9 L1084.6,1850.4 L1087.7,1849.0 L1090.9,1847.5 L1094.1,1846.0 L1097.2,1844.6 L1100.4,1843.1 L1103.5,1841.6 L1106.7,1840.2 L1109.9,1838.7 L1113.0,1837.3 L1116.2,1835.8 L1119.3,1834.3 L1122.5,1832.9 L1125.7,1831.4 L1128.8,1830.0 L1132.0,1828.5 L1135.1,1827.0 L1138.3,1825.6 L1141.5,1824.1 L1144.6,1822.7 L1147.8,1821.2 L1151.0,1819.7 L1154.1,1818.3 L1157.3,1816.8 L1160.4,1815.4 L1163.6,1813.9 L1166.8,1812.4 L1169.9,1811.0 L1173.1,1809.5 L1176.2,1808.1 L1179.4,1806.6 L1182.6,1805.1 L1185.7,1803.7 L1188.9,1802.2 L1192.0,1800.8 L1195.2,1799.3 L1198.4,1797.8 L1201.5,1796.4 L1204.7,1794.9 L1207.8,1793.5 L1211.0,1792.0 L1214.2,1790.5 L1217.3,1789.1 L1220.5,1787.6 L1223.6,1786.2 L1226.8,1784.7 L1230.0,1783.3 L1233.1,1781.8 L1236.3,1780.3 L1239.4,1778.9 L1242.6,1777.4 L1245.8,1776.0 L1248.9,1774.5 L1252.1,1773.0 L1255.2,1771.6 L1258.4,1770.1 L1261.6,1768.7 L1264.7,1767.2 L1267.9,1765.8 L1271.0,1764.3 L1274.2,1762.8 L1277.4,1761.4 L1280.5,1759.9 L1283.7,1758.5 L1286.9,1757.0 L1290.0,1755.6 L1293.2,1754.1 L1296.3,1752.6 L1299.5,1751.2 L1302.7,1749.7 L1305.8,1748.3 L1309.0,1746.8 L1312.1,1745.4 L1315.3,1743.9 L1318.5,1742.5 L1321.6,1741.0 L1324.8,1739.6 L1327.9,1738.1 L1331.1,1736.6 L1334.3,1735.2 L1337.4,1733.7 L1340.6,1732.3 L1343.7,1730.8 L1346.9,1729.4 L1350.1,1727.9 L1353.2,1726.5 L1356.4,1725.0 L1359.5,1723.6 L1362.7,1722.1 L1365.9,1720.7 L1369.0,1719.2 L1372.2,1717.8 L1375.3,1716.3 L1378.5,1714.9 L1381.7,1713.4 L1384.8,1712.0 L1388.0,1710.5 L1391.1,1709.1 L1394.3,1707.6 L1397.5,1706.2 L1400.6,1704.7 L1403.8,1703.3 L1406.9,1701.8 L1410.1,1700.4 L1413.3,1699.0 L1416.4,1697.5 L1419.6,1696.1 L1422.7,1694.6 L1425.9,1693.2 L1429.1,1691.7 L1432.2,1690.3 L1435.4,1688.9 L1438.6,1687.4 L1441.7,1686.0 L1444.9,1684.5 L1448.0,1683.1 L1451.2,1681.7 L1454.4,1680.2 L1457.5,1678.8 L1460.7,1677.4 L1463.8,1676.0 L1467.0,1674.5 L1470.2,1673.1 L1473.3,1671.7 L1476.5,1670.2 L1479.6,1668.8 L1482.8,1667.4 L1486.0,1666.0 L1489.1,1664.6 L1492.3,1663.1 L1495.4,1661.7 L1498.6,1660.3 L1501.8,1658.9 L1504.9,1657.5 L1508.1,1656.1 L1511.2,1654.7 L1514.4,1653.3 L1517.6,1651.9 L1520.7,1650.5 L1523.9,1649.1 L1527.0,1647.7 L1530.2,1646.3 L1533.4,1644.9 L1536.5,1643.6 L1539.7,1642.2 L1542.8,1640.8 L1546.0,1639.4 L1549.2,1638.1 L1552.3,1636.7 L1555.5,1635.4 L1558.6,1634.0 L1561.8,1632.7 L1565.0,1631.3 L1568.1,1630.0 L1571.3,1628.7 L1574.4,1627.3 L1577.6,1626.0 L1580.8,1624.7 L1583.9,1623.4 L1587.1,1622.1 L1590.3,1620.8 L1593.4,1619.5 L1596.6,1618.3 L1599.7,1617.0 L1602.9,1615.7 L1606.1,1614.5 L1609.2,1613.2 L1612.4,1612.0 L1615.5,1610.8 L1618.7,1609.6 L1621.9,1608.4 L1625.0,1607.2 L1628.2,1606.0 L1631.3,1604.9 L1634.5,1603.7 L1637.7,1602.6 L1640.8,1601.5 L1644.0,1600.4 L1647.1,1599.3 L1650.3,1598.2 L1653.5,1597.2 L1656.6,1596.1 L1659.8,1595.1 L1662.9,1594.1 L1666.1,1593.2 L1669.3,1592.2 L1672.4,1591.3 L1675.6,1590.4 L1678.7,1589.5 L1681.9,1588.7 L1685.1,1587.8 L1688.2,1587.0 L1691.4,1586.3 L1694.5,1585.5 L1697.7,1584.8 L1700.9,1584.1 L1704.0,1583.5 L1707.2,1582.9 L1710.3,1582.3 L1713.5,1581.8 L1716.7,1581.3 L1719.8,1580.9 L1723.0,1580.5 L1726.1,1580.1 L1729.3,1579.8 L1732.5,1579.5 L1735.6,1579.3 L1738.8,1579.2 L1742.0,1579.1 L1745.1,1579.0 L1748.3,1579.0 L1751.4,1579.1 L1754.6,1579.2 L1757.8,1579.4 L1760.9,1579.7 L1764.1,1580.0 L1767.2,1580.4 L1770.4,1580.9 L1773.6,1581.4 L1776.7,1582.1 L1779.9,1582.8 L1783.0,1583.6 L1786.2,1584.4 L1789.4,1585.4 L1792.5,1586.5 L1795.7,1587.6 L1798.8,1588.9 L1802.0,1590.2 L1805.2,1591.6 L1808.3,1593.2 L1811.5,1594.9 L1814.6,1596.6 L1817.8,1598.5 L1821.0,1600.5 L1824.1,1602.6 L1827.3,1604.8 L1830.4,1607.2 L1833.6,1609.7 L1836.8,1612.3 L1839.9,1615.0 L1843.1,1617.9 L1846.2,1620.9 L1849.4,1624.0 L1852.6,1627.3 L1855.7,1630.7 L1858.9,1634.3 L1862.0,1638.0 L1865.2,1641.8 L1868.4,1645.8 L1871.5,1650.0 L1874.7,1654.3 L1877.9,1658.8 L1881.0,1663.4 L1884.2,1668.2 L1887.3,1673.1 L1890.5,1678.2 L1893.7,1683.5 L1896.8,1688.9 L1900.0,1694.6 L1903.1,1700.3 L1906.3,1706.3 L1909.5,1712.4 L1912.6,1718.7 L1915.8,1725.1 L1918.9,1731.7 L1922.1,1738.5 L1925.3,1745.5 L1928.4,1752.6 L1931.6,1759.9 L1934.7,1767.4 L1937.9,1775.1 L1941.1,1782.9 L1944.2,1790.9 L1947.4,1799.1 L1950.5,1807.5 L1953.7,1816.0 L1956.9,1824.7 L1960.0,1833.6 L1963.2,1842.7 L1966.3,1851.9 L1969.5,1861.3 L1972.7,1870.9 L1975.8,1880.6 L1979.0,1890.6 L1982.1,1900.7 L1985.3,1910.9 L1988.5,1921.4 L1991.6,1932.0 L1994.8,1942.7 L1997.9,1953.7 L2001.1,1964.8 L2004.3,1976.1 L2007.4,1987.5 L2010.6,1999.1 L2013.7,2010.9 L2016.9,2022.8 L2020.1,2034.9 L2023.2,2047.1 L2026.4,2059.5 L2029.6,2072.1 L2032.7,2084.9 L2035.9,2097.7 L2039.0,2110.8 L2042.2,2124.0 L2045.4,2137.3 L2048.5,2150.9 L2051.7,2164.5 L2054.8,2178.3 L2058.0,2192.3 L2061.2,2206.4 L2064.3,2220.7 L2067.5,2235.1 L2070.6,2249.7 L2073.8,2264.4" fill="none" stroke="#3030ff" stroke-width="4.5" stroke-linejoin="round"/>
<path d="M180.7,2270.5 L183.8,2269.4 L186.9,2268.3 L190.1,2267.2 L193.2,2266.1 L196.3,2265.0 L199.4,2263.9 L202.6,2262.8 L205.7,2261.7 L208.8,2260.6 L211.9,2259.6 L215.1,2258.5 L218.2,2257.4 L221.3,2256.3 L224.4,2255.2 L227.6,2254.1 L230.7,2253.0 L233.8,2251.9 L236.9,2250.8 L240.1,2249.7 L243.2,2248.6 L246.3,2247.5 L249.4,2246.4 L252.6,2245.3 L255.7,2244.2 L258.8,2243.1 L261.9,2242.0 L265.1,2241.0 L268.2,2239.9 L271.3,2238.8 L274.4,2237.7 L277.6,2236.6 L280.7,2235.5 L283.8,2234.4 L286.9,2233.3 L290.1,2232.2 L293.2,2231.1 L296.3,2230.0 L299.4,2228.9 L302.6,2227.8 L305.7,2226.7 L308.8,2225.6 L311.9,2224.6 L315.1,2223.5 L318.2,2222.4 L321.3,2221.3 L324.4,2220.2 L327.6,2219.1 L330.7,2218.0 L333.8,2216.9 L336.9,2215.8 L340.1,2214.7 L343.2,2213.6 L346.3,2212.5 L349.4,2211.4 L352.6,2210.3 L355.7,2209.3 L358.8,2208.2 L361.9,2207.1 L365.1,2206.0 L368.2,2204.9 L371.3,2203.8 L374.4,2202.7 L377.6,2201.6 L380.7,2200.5 L383.8,2199.4 L386.9,2198.3 L390.1,2197.2 L393.2,2196.1 L396.3,2195.1 L399.4,2194.0 L402.6,2192.9 L405.7,2191.8 L408.8,2190.7 L411.9,2189.6 L415.1,2188.5 L418.2,2187.4 L421.3,2186.3 L424.4,2185.2 L427.6,2184.1 L430.7,2183.0 L433.8,2181.9 L436.9,2180.9 L440.0,2179.8 L443.2,2178.7 L446.3,2177.6 L449.4,2176.5 L452.5,2175.4 L455.7,2174.3 L458.8,2173.2 L461.9,2172.1 L465.0,2171.0 L468.2,2169.9 L471.3,2168.8 L474.4,2167.8 L477.5,2166.7 L480.7,2165.6 L483.8,2164.5 L486.9,2163.4 L490.0,2162.3 L493.2,2161.2 L496.3,2160.1 L499.4,2159.0 L502.5,2157.9 L505.7,2156.8 L508.8,2155.8 L511.9,2154.7 L515.0,2153.6 L518.2,2152.5 L521.3,2151.4 L524.4,2150.3 L527.5,2149.2 L530.7,2148.1 L533.8,2147.0 L536.9,2145.9 L540.0,2144.8 L543.2,2143.8 L546.3,2142.7 L549.4,2141.6 L552.5,2140.5 L555.7,2139.4 L558.8,2138.3 L561.9,2137.2 L565.0,2136.1 L568.2,2135.0 L571.3,2133.9 L574.4,2132.9 L577.5,2131.8 L580.7,2130.7 L583.8,2129.6 L586.9,2128.5 L590.0,2127.4 L593.2,2126.3 L596.3,2125.2 L599.4,2124.1 L602.5,2123.0 L605.7,2122.0 L608.8,2120.9 L611.9,2119.8 L615.0,2118.7 L618.2,2117.6 L621.3,2116.5 L624.4,2115.4 L627.5,2114.3 L630.7,2113.2 L633.8,2112.2 L636.9,2111.1 L640.0,2110.0 L643.2,2108.9 L646.3,2107.8 L649.4,2106.7 L652.5,2105.6 L655.7,2104.5 L658.8,2103.4 L661.9,2102.4 L665.0,2101.3 L668.2,2100.2 L671.3,2099.1 L674.4,2098.0 L677.5,2096.9 L680.7,2095.8 L683.8,2094.7 L686.9,2093.6 L690.0,2092.6 L693.2,2091.5 L696.3,2090.4 L699.4,2089.3 L702.5,2088.2 L705.6,2087.1 L708.8,2086.0 L711.9,2084.9 L715.0,2083.8 L718.1,2082.8 L721.3,2081.7 L724.4,2080.6 L727.5,2079.5 L730.6,2078.4 L733.8,2077.3 L736.9,2076.2 L740.0,2075.1 L743.1,2074.0 L746.3,2073.0 L749.4,2071.9 L752.5,2070.8 L755.6,2069.7 L758.8,2068.6 L761.9,2067.5 L765.0,2066.4 L768.1,2065.3 L771.3,2064.3 L774.4,2063.2 L777.5,2062.1 L780.6,2061.0 L783.8,2059.9 L786.9,2058.8 L790.0,2057.7 L793.1,2056.6 L796.3,2055.6 L799.4,2054.5 L802.5,2053.4 L805.6,2052.3 L808.8,2051.2 L811.9,2050.1 L815.0,2049.0 L818.1,2047.9 L821.3,2046.9 L824.4,2045.8 L827.5,2044.7 L830.6,2043.6 L833.8,2042.5 L836.9,2041.4 L840.0,2040.3 L843.1,2039.3 L846.3,2038.2 L849.4,2037.1 L852.5,2036.0 L855.6,2034.9 L858.8,2033.8 L861.9,2032.7 L865.0,2031.6 L868.1,2030.6 L871.3,2029.5 L874.4,2028.4 L877.5,2027.3 L880.6,2026.2 L883.8,2025.1 L886.9,2024.0 L890.0,2023.0 L893.1,2021.9 L896.3,2020.8 L899.4,2019.7 L902.5,2018.6 L905.6,2017.5 L908.8,2016.4 L911.9,2015.4 L915.0,2014.3 L918.1,2013.2 L921.3,2012.1 L924.4,2011.0 L927.5,2009.9 L930.6,2008.8 L933.8,2007.7 L936.9,2006.7 L940.0,2005.6 L943.1,2004.5 L946.3,2003.4 L949.4,2002.3 L952.5,2001.2 L955.6,2000.2 L958.7,1999.1 L961.9,1998.0 L965.0,1996.9 L968.1,1995.8 L971.2,1994.7 L974.4,1993.6 L977.5,1992.6 L980.6,1991.5 L983.7,1990.4 L986.9,1989.3 L990.0,1988.2 L993.1,1987.1 L996.2,1986.0 L999.4,1985.0 L1002.5,1983.9 L1005.6,1982.8 L1008.7,1981.7 L1011.9,1980.6 L1015.0,1979.5 L1018.1,1978.4 L1021.2,1977.4 L1024.4,1976.3 L1027.5,1975.2 L1030.6,1974.1 L1033.7,1973.0 L1036.9,1971.9 L1040.0,1970.9 L1043.1,1969.8 L1046.2,1968.7 L1049.4,1967.6 L1052.5,1966.5 L1055.6,1965.4 L1058.7,1964.4 L1061.9,1963.3 L1065.0,1962.2 L1068.1,1961.1 L1071.2,1960.0 L1074.4,1958.9 L1077.5,1957.8 L1080.6,1956.8 L1083.7,1955.7 L1086.9,1954.6 L1090.0,1953.5 L1093.1,1952.4 L1096.2,1951.3 L1099.4,1950.3 L1102.5,1949.2 L1105.6,1948.1 L1108.7,1947.0 L1111.9,1945.9 L1115.0,1944.8 L1118.1,1943.8 L1121.2,1942.7 L1124.4,1941.6 L1127.5,1940.5 L1130.6,1939.4 L1133.7,1938.3 L1136.9,1937.3 L1140.0,1936.2 L1143.1,1935.1 L1146.2,1934.0 L1149.4,1932.9 L1152.5,1931.8 L1155.6,1930.8 L1158.7,1929.7 L1161.9,1928.6 L1165.0,1927.5 L1168.1,1926.4 L1171.2,1925.3 L1174.4,1924.3 L1177.5,1923.2 L1180.6,1922.1 L1183.7,1921.0 L1186.9,1919.9 L1190.0,1918.9 L1193.1,1917.8 L1196.2,1916.7 L1199.4,1915.6 L1202.5,1914.5 L1205.6,1913.4 L1208.7,1912.4 L1211.8,1911.3 L1215.0,1910.2 L1218.1,1909.1 L1221.2,1908.0 L1224.3,1906.9 L1227.5,1905.9 L1230.6,1904.8 L1233.7,1903.7 L1236.8,1902.6 L1240.0,1901.5 L1243.1,1900.5 L1246.2,1899.4 L1249.3,1898.3 L1252.5,1897.2 L1255.6,1896.1 L1258.7,1895.1 L1261.8,1894.0 L1265.0,1892.9 L1268.1,1891.8 L1271.2,1890.7 L1274.3,1889.6 L1277.5,1888.6 L1280.6,1887.5 L1283.7,1886.4 L1286.8,1885.3 L1290.0,1884.2 L1293.1,1883.2 L1296.2,1882.1 L1299.3,1881.0 L1302.5,1879.9 L1305.6,1878.8 L1308.7,1877.8 L1311.8,1876.7 L1315.0,1875.6 L1318.1,1874.5 L1321.2,1873.4 L1324.3,1872.4 L1327.5,1871.3 L1330.6,1870.2 L1333.7,1869.1 L1336.8,1868.1 L1340.0,1867.0 L1343.1,1865.9 L1346.2,1864.8 L1349.3,1863.7 L1352.5,1862.7 L1355.6,1861.6 L1358.7,1860.5 L1361.8,1859.4 L1365.0,1858.4 L1368.1,1857.3 L1371.2,1856.2 L1374.3,1855.1 L1377.5,1854.1 L1380.6,1853.0 L1383.7,1851.9 L1386.8,1850.8 L1390.0,1849.8 L1393.1,1848.7 L1396.2,1847.6 L1399.3,1846.5 L1402.5,1845.5 L1405.6,1844.4 L1408.7,1843.3 L1411.8,1842.2 L1415.0,1841.2 L1418.1,1840.1 L1421.2,1839.0 L1424.3,1838.0 L1427.5,1836.9 L1430.6,1835.8 L1433.7,1834.7 L1436.8,1833.7 L1440.0,1832.6 L1443.1,1831.5 L1446.2,1830.5 L1449.3,1829.4 L1452.5,1828.3 L1455.6,1827.3 L1458.7,1826.2 L1461.8,1825.2 L1465.0,1824.1 L1468.1,1823.0 L1471.2,1822.0 L1474.3,1820.9 L1477.4,1819.9 L1480.6,1818.8 L1483.7,1817.7 L1486.8,1816.7 L1489.9,1815.6 L1493.1,1814.6 L1496.2,1813.5 L1499.3,1812.5 L1502.4,1811.4 L1505.6,1810.4 L1508.7,1809.3 L1511.8,1808.3 L1514.9,1807.2 L1518.1,1806.2 L1521.2,1805.2 L1524.3,1804.1 L1527.4,1803.1 L1530.6,1802.1 L1533.7,1801.0 L1536.8,1800.0 L1539.9,1799.0 L1543.1,1797.9 L1546.2,1796.9 L1549.3,1795.9 L1552.4,1794.9 L1555.6,1793.9 L1558.7,1792.9 L1561.8,1791.9 L1564.9,1790.8 L1568.1,1789.8 L1571.2,1788.8 L1574.3,1787.9 L1577.4,1786.9 L1580.6,1785.9 L1583.7,1784.9 L1586.8,1783.9 L1589.9,1783.0 L1593.1,1782.0 L1596.2,1781.0 L1599.3,1780.1 L1602.4,1779.1 L1605.6,1778.2 L1608.7,1777.2 L1611.8,1776.3 L1614.9,1775.4 L1618.1,1774.5 L1621.2,1773.6 L1624.3,1772.7 L1627.4,1771.8 L1630.6,1770.9 L1633.7,1770.0 L1636.8,1769.1 L1639.9,1768.3 L1643.1,1767.4 L1646.2,1766.6 L1649.3,1765.8 L1652.4,1765.0 L1655.6,1764.2 L1658.7,1763.4 L1661.8,1762.6 L1664.9,1761.9 L1668.1,1761.1 L1671.2,1760.4 L1674.3,1759.7 L1677.4,1759.0 L1680.6,1758.3 L1683.7,1757.6 L1686.8,1757.0 L1689.9,1756.3 L1693.1,1755.7 L1696.2,1755.2 L1699.3,1754.6 L1702.4,1754.1 L1705.6,1753.5 L1708.7,1753.0 L1711.8,1752.6 L1714.9,1752.1 L1718.1,1751.7 L1721.2,1751.4 L1724.3,1751.0 L1727.4,1750.7 L1730.5,1750.4 L1733.7,1750.2 L1736.8,1749.9 L1739.9,1749.8 L1743.0,1749.6 L1746.2,1749.5 L1749.3,1749.5 L1752.4,1749.5 L1755.5,1749.5 L1758.7,1749.6 L1761.8,1749.7 L1764.9,1749.9 L1768.0,1750.1 L1771.2,1750.4 L1774.3,1750.7 L1777.4,1751.1 L1780.5,1751.6 L1783.7,1752.1 L1786.8,1752.7 L1789.9,1753.3 L1793.0,1754.0 L1796.2,1754.8 L1799.3,1755.7 L1802.4,1756.6 L1805.5,1757.6 L1808.7,1758.7 L1811.8,1759.9 L1814.9,1761.2 L1818.0,1762.5 L1821.2,1764.0 L1824.3,1765.5 L1827.4,1767.1 L1830.5,1768.9 L1833.7,1770.7 L1836.8,1772.6 L1839.9,1774.6 L1843.0,1776.8 L1846.2,1779.0 L1849.3,1781.4 L1852.4,1783.9 L1855.5,1786.5 L1858.7,1789.2 L1861.8,1792.0 L1864.9,1795.0 L1868.0,1798.1 L1871.2,1801.3 L1874.3,1804.7 L1877.4,1808.2 L1880.5,1811.8 L1883.7,1815.6 L1886.8,1819.5 L1889.9,1823.6 L1893.0,1827.8 L1896.2,1832.2 L1899.3,1836.7 L1902.4,1841.3 L1905.5,1846.1 L1908.7,1851.1 L1911.8,1856.2 L1914.9,1861.5 L1918.0,1867.0 L1921.2,1872.6 L1924.3,1878.4 L1927.4,1884.3 L1930.5,1890.4 L1933.7,1896.7 L1936.8,1903.1 L1939.9,1909.7 L1943.0,1916.5 L1946.2,1923.4 L1949.3,1930.5 L1952.4,1937.8 L1955.5,1945.3 L1958.7,1952.9 L1961.8,1960.7 L1964.9,1968.7 L1968.0,1976.8 L1971.2,1985.1 L1974.3,1993.6 L1977.4,2002.3 L1980.5,2011.1 L1983.6,2020.1 L1986.8,2029.3 L1989.9,2038.7 L1993.0,2048.2 L1996.1,2057.9 L1999.3,2067.8 L2002.4,2077.8 L2005.5,2088.0 L2008.6,2098.4 L2011.8,2109.0 L2014.9,2119.7 L2018.0,2130.6 L2021.1,2141.6 L2024.3,2152.8 L2027.4,2164.2 L2030.5,2175.8 L2033.6,2187.5 L2036.8,2199.4 L2039.9,2211.4 L2043.0,2223.6 L2046.1,2236.0 L2049.3,2248.5 L2052.4,2261.2" fill="none" stroke="#333333" stroke-width="4.5" stroke-linejoin="round"/>
<path d="M180.7,2270.5 L183.8,2269.8 L186.9,2269.1 L189.9,2268.3 L193.0,2267.6 L196.1,2266.9 L199.2,2266.2 L202.2,2265.5 L205.3,2264.8 L208.4,2264.0 L211.5,2263.3 L214.5,2262.6 L217.6,2261.9 L220.7,2261.2 L223.8,2260.4 L226.9,2259.7 L229.9,2259.0 L233.0,2258.3 L236.1,2257.6 L239.2,2256.8 L242.2,2256.1 L245.3,2255.4 L248.4,2254.7 L251.5,2254.0 L254.5,2253.3 L257.6,2252.5 L260.7,2251.8 L263.8,2251.1 L266.9,2250.4 L269.9,2249.7 L273.0,2248.9 L276.1,2248.2 L279.2,2247.5 L282.2,2246.8 L285.3,2246.1 L288.4,2245.4 L291.5,2244.6 L294.5,2243.9 L297.6,2243.2 L300.7,2242.5 L303.8,2241.8 L306.8,2241.1 L309.9,2240.3 L313.0,2239.6 L316.1,2238.9 L319.2,2238.2 L322.2,2237.5 L325.3,2236.7 L328.4,2236.0 L331.5,2235.3 L334.5,2234.6 L337.6,2233.9 L340.7,2233.2 L343.8,2232.4 L346.8,2231.7 L349.9,2231.0 L353.0,2230.3 L356.1,2229.6 L359.2,2228.9 L362.2,2228.1 L365.3,2227.4 L368.4,2226.7 L371.5,2226.0 L374.5,2225.3 L377.6,2224.5 L380.7,2223.8 L383.8,2223.1 L386.8,2222.4 L389.9,2221.7 L393.0,2221.0 L396.1,2220.2 L399.2,2219.5 L402.2,2218.8 L405.3,2218.1 L408.4,2217.4 L411.5,2216.7 L414.5,2215.9 L417.6,2215.2 L420.7,2214.5 L423.8,2213.8 L426.8,2213.1 L429.9,2212.4 L433.0,2211.6 L436.1,2210.9 L439.2,2210.2 L442.2,2209.5 L445.3,2208.8 L448.4,2208.1 L451.5,2207.3 L454.5,2206.6 L457.6,2205.9 L460.7,2205.2 L463.8,2204.5 L466.8,2203.8 L469.9,2203.0 L473.0,2202.3 L476.1,2201.6 L479.2,2200.9 L482.2,2200.2 L485.3,2199.5 L488.4,2198.7 L491.5,2198.0 L494.5,2197.3 L497.6,2196.6 L500.7,2195.9 L503.8,2195.2 L506.8,2194.4 L509.9,2193.7 L513.0,2193.0 L516.1,2192.3 L519.1,2191.6 L522.2,2190.9 L525.3,2190.1 L528.4,2189.4 L531.5,2188.7 L534.5,2188.0 L537.6,2187.3 L540.7,2186.6 L543.8,2185.9 L546.8,2185.1 L549.9,2184.4 L553.0,2183.7 L556.1,2183.0 L559.1,2182.3 L562.2,2181.6 L565.3,2180.8 L568.4,2180.1 L571.5,2179.4 L574.5,2178.7 L577.6,2178.0 L580.7,2177.3 L583.8,2176.5 L586.8,2175.8 L589.9,2175.1 L593.0,2174.4 L596.1,2173.7 L599.1,2173.0 L602.2,2172.3 L605.3,2171.5 L608.4,2170.8 L611.5,2170.1 L614.5,2169.4 L617.6,2168.7 L620.7,2168.0 L623.8,2167.2 L626.8,2166.5 L629.9,2165.8 L633.0,2165.1 L636.1,2164.4 L639.1,2163.7 L642.2,2163.0 L645.3,2162.2 L648.4,2161.5 L651.5,2160.8 L654.5,2160.1 L657.6,2159.4 L660.7,2158.7 L663.8,2158.0 L666.8,2157.2 L669.9,2156.5 L673.0,2155.8 L676.1,2155.1 L679.1,2154.4 L682.2,2153.7 L685.3,2152.9 L688.4,2152.2 L691.5,2151.5 L694.5,2150.8 L697.6,2150.1 L700.7,2149.4 L703.8,2148.7 L706.8,2147.9 L709.9,2147.2 L713.0,2146.5 L716.1,2145.8 L719.1,2145.1 L722.2,2144.4 L725.3,2143.7 L728.4,2142.9 L731.5,2142.2 L734.5,2141.5 L737.6,2140.8 L740.7,2140.1 L743.8,2139.4 L746.8,2138.7 L749.9,2137.9 L753.0,2137.2 L756.1,2136.5 L759.1,2135.8 L762.2,2135.1 L765.3,2134.4 L768.4,2133.7 L771.4,2132.9 L774.5,2132.2 L777.6,2131.5 L780.7,2130.8 L783.8,2130.1 L786.8,2129.4 L789.9,2128.7 L793.0,2127.9 L796.1,2127.2 L799.1,2126.5 L802.2,2125.8 L805.3,2125.1 L808.4,2124.4 L811.4,2123.7 L814.5,2122.9 L817.6,2122.2 L820.7,2121.5 L823.8,2120.8 L826.8,2120.1 L829.9,2119.4 L833.0,2118.7 L836.1,2118.0 L839.1,2117.2 L842.2,2116.5 L845.3,2115.8 L848.4,2115.1 L851.4,2114.4 L854.5,2113.7 L857.6,2113.0 L860.7,2112.2 L863.8,2111.5 L866.8,2110.8 L869.9,2110.1 L873.0,2109.4 L876.1,2108.7 L879.1,2108.0 L882.2,2107.2 L885.3,2106.5 L888.4,2105.8 L891.4,2105.1 L894.5,2104.4 L897.6,2103.7 L900.7,2103.0 L903.8,2102.3 L906.8,2101.5 L909.9,2100.8 L913.0,2100.1 L916.1,2099.4 L919.1,2098.7 L922.2,2098.0 L925.3,2097.3 L928.4,2096.6 L931.4,2095.8 L934.5,2095.1 L937.6,2094.4 L940.7,2093.7 L943.8,2093.0 L946.8,2092.3 L949.9,2091.6 L953.0,2090.9 L956.1,2090.1 L959.1,2089.4 L962.2,2088.7 L965.3,2088.0 L968.4,2087.3 L971.4,2086.6 L974.5,2085.9 L977.6,2085.1 L980.7,2084.4 L983.7,2083.7 L986.8,2083.0 L989.9,2082.3 L993.0,2081.6 L996.1,2080.9 L999.1,2080.2 L1002.2,2079.5 L1005.3,2078.7 L1008.4,2078.0 L1011.4,2077.3 L1014.5,2076.6 L1017.6,2075.9 L1020.7,2075.2 L1023.7,2074.5 L1026.8,2073.8 L1029.9,2073.0 L1033.0,2072.3 L1036.1,2071.6 L1039.1,2070.9 L1042.2,2070.2 L1045.3,2069.5 L1048.4,2068.8 L1051.4,2068.1 L1054.5,2067.3 L1057.6,2066.6 L1060.7,2065.9 L1063.7,2065.2 L1066.8,2064.5 L1069.9,2063.8 L1073.0,2063.1 L1076.1,2062.4 L1079.1,2061.7 L1082.2,2060.9 L1085.3,2060.2 L1088.4,2059.5 L1091.4,2058.8 L1094.5,2058.1 L1097.6,2057.4 L1100.7,2056.7 L1103.7,2056.0 L1106.8,2055.2 L1109.9,2054.5 L1113.0,2053.8 L1116.1,2053.1 L1119.1,2052.4 L1122.2,2051.7 L1125.3,2051.0 L1128.4,2050.3 L1131.4,2049.6 L1134.5,2048.8 L1137.6,2048.1 L1140.7,2047.4 L1143.7,2046.7 L1146.8,2046.0 L1149.9,2045.3 L1153.0,2044.6 L1156.1,2043.9 L1159.1,2043.2 L1162.2,2042.4 L1165.3,2041.7 L1168.4,2041.0 L1171.4,2040.3 L1174.5,2039.6 L1177.6,2038.9 L1180.7,2038.2 L1183.7,2037.5 L1186.8,2036.8 L1189.9,2036.0 L1193.0,2035.3 L1196.0,2034.6 L1199.1,2033.9 L1202.2,2033.2 L1205.3,2032.5 L1208.4,2031.8 L1211.4,2031.1 L1214.5,2030.4 L1217.6,2029.7 L1220.7,2028.9 L1223.7,2028.2 L1226.8,2027.5 L1229.9,2026.8 L1233.0,2026.1 L1236.0,2025.4 L1239.1,2024.7 L1242.2,2024.0 L1245.3,2023.3 L1248.4,2022.6 L1251.4,2021.8 L1254.5,2021.1 L1257.6,2020.4 L1260.7,2019.7 L1263.7,2019.0 L1266.8,2018.3 L1269.9,2017.6 L1273.0,2016.9 L1276.0,2016.2 L1279.1,2015.5 L1282.2,2014.7 L1285.3,2014.0 L1288.4,2013.3 L1291.4,2012.6 L1294.5,2011.9 L1297.6,2011.2 L1300.7,2010.5 L1303.7,2009.8 L1306.8,2009.1 L1309.9,2008.4 L1313.0,2007.7 L1316.0,2006.9 L1319.1,2006.2 L1322.2,2005.5 L1325.3,2004.8 L1328.4,2004.1 L1331.4,2003.4 L1334.5,2002.7 L1337.6,2002.0 L1340.7,2001.3 L1343.7,2000.6 L1346.8,1999.9 L1349.9,1999.2 L1353.0,1998.5 L1356.0,1997.7 L1359.1,1997.0 L1362.2,1996.3 L1365.3,1995.6 L1368.4,1994.9 L1371.4,1994.2 L1374.5,1993.5 L1377.6,1992.8 L1380.7,1992.1 L1383.7,1991.4 L1386.8,1990.7 L1389.9,1990.0 L1393.0,1989.3 L1396.0,1988.6 L1399.1,1987.9 L1402.2,1987.2 L1405.3,1986.4 L1408.3,1985.7 L1411.4,1985.0 L1414.5,1984.3 L1417.6,1983.6 L1420.7,1982.9 L1423.7,1982.2 L1426.8,1981.5 L1429.9,1980.8 L1433.0,1980.1 L1436.0,1979.4 L1439.1,1978.7 L1442.2,1978.0 L1445.3,1977.3 L1448.3,1976.6 L1451.4,1975.9 L1454.5,1975.2 L1457.6,1974.5 L1460.7,1973.8 L1463.7,1973.1 L1466.8,1972.4 L1469.9,1971.7 L1473.0,1971.0 L1476.0,1970.3 L1479.1,1969.6 L1482.2,1968.9 L1485.3,1968.3 L1488.3,1967.6 L1491.4,1966.9 L1494.5,1966.2 L1497.6,1965.5 L1500.7,1964.8 L1503.7,1964.1 L1506.8,1963.4 L1509.9,1962.7 L1513.0,1962.1 L1516.0,1961.4 L1519.1,1960.7 L1522.2,1960.0 L1525.3,1959.3 L1528.3,1958.6 L1531.4,1958.0 L1534.5,1957.3 L1537.6,1956.6 L1540.7,1955.9 L1543.7,1955.3 L1546.8,1954.6 L1549.9,1953.9 L1553.0,1953.3 L1556.0,1952.6 L1559.1,1951.9 L1562.2,1951.3 L1565.3,1950.6 L1568.3,1950.0 L1571.4,1949.3 L1574.5,1948.6 L1577.6,1948.0 L1580.7,1947.4 L1583.7,1946.7 L1586.8,1946.1 L1589.9,1945.4 L1593.0,1944.8 L1596.0,1944.2 L1599.1,1943.5 L1602.2,1942.9 L1605.3,1942.3 L1608.3,1941.7 L1611.4,1941.1 L1614.5,1940.5 L1617.6,1939.9 L1620.6,1939.3 L1623.7,1938.7 L1626.8,1938.1 L1629.9,1937.5 L1633.0,1936.9 L1636.0,1936.4 L1639.1,1935.8 L1642.2,1935.2 L1645.3,1934.7 L1648.3,1934.2 L1651.4,1933.6 L1654.5,1933.1 L1657.6,1932.6 L1660.6,1932.1 L1663.7,1931.6 L1666.8,1931.1 L1669.9,1930.6 L1673.0,1930.1 L1676.0,1929.7 L1679.1,1929.2 L1682.2,1928.8 L1685.3,1928.3 L1688.3,1927.9 L1691.4,1927.5 L1694.5,1927.1 L1697.6,1926.8 L1700.6,1926.4 L1703.7,1926.1 L1706.8,1925.7 L1709.9,1925.4 L1713.0,1925.1 L1716.0,1924.9 L1719.1,1924.6 L1722.2,1924.4 L1725.3,1924.2 L1728.3,1924.0 L1731.4,1923.8 L1734.5,1923.7 L1737.6,1923.6 L1740.6,1923.5 L1743.7,1923.4 L1746.8,1923.4 L1749.9,1923.3 L1753.0,1923.4 L1756.0,1923.4 L1759.1,1923.5 L1762.2,1923.6 L1765.3,1923.8 L1768.3,1924.0 L1771.4,1924.2 L1774.5,1924.5 L1777.6,1924.8 L1780.6,1925.1 L1783.7,1925.5 L1786.8,1925.9 L1789.9,1926.4 L1793.0,1927.0 L1796.0,1927.6 L1799.1,1928.2 L1802.2,1928.9 L1805.3,1929.6 L1808.3,1930.4 L1811.4,1931.3 L1814.5,1932.2 L1817.6,1933.2 L1820.6,1934.3 L1823.7,1935.4 L1826.8,1936.6 L1829.9,1937.9 L1833.0,1939.3 L1836.0,1940.7 L1839.1,1942.2 L1842.2,1943.8 L1845.3,1945.5 L1848.3,1947.2 L1851.4,1949.1 L1854.5,1951.0 L1857.6,1953.1 L1860.6,1955.2 L1863.7,1957.4 L1866.8,1959.8 L1869.9,1962.2 L1872.9,1964.8 L1876.0,1967.4 L1879.1,1970.2 L1882.2,1973.1 L1885.3,1976.1 L1888.3,1979.2 L1891.4,1982.5 L1894.5,1985.9 L1897.6,1989.4 L1900.6,1993.0 L1903.7,1996.7 L1906.8,2000.6 L1909.9,2004.7 L1912.9,2008.8 L1916.0,2013.1 L1919.1,2017.6 L1922.2,2022.2 L1925.3,2026.9 L1928.3,2031.8 L1931.4,2036.9 L1934.5,2042.0 L1937.6,2047.4 L1940.6,2052.9 L1943.7,2058.5 L1946.8,2064.4 L1949.9,2070.3 L1952.9,2076.5 L1956.0,2082.7 L1959.1,2089.2 L1962.2,2095.8 L1965.3,2102.6 L1968.3,2109.6 L1971.4,2116.7 L1974.5,2124.0 L1977.6,2131.4 L1980.6,2139.0 L1983.7,2146.8 L1986.8,2154.8 L1989.9,2162.9 L1992.9,2171.2 L1996.0,2179.7 L1999.1,2188.3 L2002.2,2197.1 L2005.3,2206.1 L2008.3,2215.2 L2011.4,2224.5 L2014.5,2234.0 L2017.6,2243.7 L2020.6,2253.5 L2023.7,2263.5" fill="none" stroke="#e07040" stroke-width="4.5" stroke-linejoin="round"/>
<path d="M180.7,2270.5 L183.7,2270.1 L186.7,2269.8 L189.7,2269.4 L192.7,2269.1 L195.7,2268.7 L198.7,2268.4 L201.7,2268.0 L204.7,2267.7 L207.7,2267.3 L210.7,2267.0 L213.7,2266.7 L216.7,2266.3 L219.7,2266.0 L222.7,2265.6 L225.6,2265.3 L228.6,2264.9 L231.6,2264.6 L234.6,2264.2 L237.6,2263.9 L240.6,2263.5 L243.6,2263.2 L246.6,2262.8 L249.6,2262.5 L252.6,2262.1 L255.6,2261.8 L258.6,2261.4 L261.6,2261.1 L264.6,2260.7 L267.6,2260.4 L270.6,2260.0 L273.6,2259.7 L276.6,2259.3 L279.6,2259.0 L282.6,2258.6 L285.6,2258.3 L288.6,2257.9 L291.6,2257.6 L294.6,2257.2 L297.6,2256.9 L300.6,2256.5 L303.6,2256.2 L306.6,2255.8 L309.5,2255.5 L312.5,2255.1 L315.5,2254.8 L318.5,2254.4 L321.5,2254.1 L324.5,2253.7 L327.5,2253.4 L330.5,2253.0 L333.5,2252.7 L336.5,2252.3 L339.5,2252.0 L342.5,2251.6 L345.5,2251.3 L348.5,2250.9 L351.5,2250.6 L354.5,2250.2 L357.5,2249.9 L360.5,2249.5 L363.5,2249.2 L366.5,2248.8 L369.5,2248.5 L372.5,2248.1 L375.5,2247.8 L378.5,2247.4 L381.5,2247.1 L384.5,2246.7 L387.5,2246.4 L390.5,2246.0 L393.5,2245.7 L396.4,2245.3 L399.4,2245.0 L402.4,2244.6 L405.4,2244.3 L408.4,2243.9 L411.4,2243.6 L414.4,2243.2 L417.4,2242.9 L420.4,2242.5 L423.4,2242.2 L426.4,2241.8 L429.4,2241.5 L432.4,2241.1 L435.4,2240.8 L438.4,2240.4 L441.4,2240.1 L444.4,2239.7 L447.4,2239.4 L450.4,2239.0 L453.4,2238.7 L456.4,2238.3 L459.4,2238.0 L462.4,2237.6 L465.4,2237.3 L468.4,2236.9 L471.4,2236.6 L474.4,2236.2 L477.4,2235.9 L480.3,2235.6 L483.3,2235.2 L486.3,2234.9 L489.3,2234.5 L492.3,2234.2 L495.3,2233.8 L498.3,2233.5 L501.3,2233.1 L504.3,2232.8 L507.3,2232.4 L510.3,2232.1 L513.3,2231.7 L516.3,2231.4 L519.3,2231.0 L522.3,2230.7 L525.3,2230.3 L528.3,2230.0 L531.3,2229.6 L534.3,2229.3 L537.3,2228.9 L540.3,2228.6 L543.3,2228.2 L546.3,2227.9 L549.3,2227.5 L552.3,2227.2 L555.3,2226.8 L558.3,2226.5 L561.3,2226.1 L564.3,2225.8 L567.2,2225.4 L570.2,2225.1 L573.2,2224.7 L576.2,2224.4 L579.2,2224.0 L582.2,2223.7 L585.2,2223.3 L588.2,2223.0 L591.2,2222.6 L594.2,2222.3 L597.2,2222.0 L600.2,2221.6 L603.2,2221.3 L606.2,2220.9 L609.2,2220.6 L612.2,2220.2 L615.2,2219.9 L618.2,2219.5 L621.2,2219.2 L624.2,2218.8 L627.2,2218.5 L630.2,2218.1 L633.2,2217.8 L636.2,2217.4 L639.2,2217.1 L642.2,2216.7 L645.2,2216.4 L648.2,2216.0 L651.1,2215.7 L654.1,2215.3 L657.1,2215.0 L660.1,2214.6 L663.1,2214.3 L666.1,2213.9 L669.1,2213.6 L672.1,2213.2 L675.1,2212.9 L678.1,2212.5 L681.1,2212.2 L684.1,2211.9 L687.1,2211.5 L690.1,2211.2 L693.1,2210.8 L696.1,2210.5 L699.1,2210.1 L702.1,2209.8 L705.1,2209.4 L708.1,2209.1 L711.1,2208.7 L714.1,2208.4 L717.1,2208.0 L720.1,2207.7 L723.1,2207.3 L726.1,2207.0 L729.1,2206.6 L732.1,2206.3 L735.1,2205.9 L738.0,2205.6 L741.0,2205.2 L744.0,2204.9 L747.0,2204.5 L750.0,2204.2 L753.0,2203.8 L756.0,2203.5 L759.0,2203.2 L762.0,2202.8 L765.0,2202.5 L768.0,2202.1 L771.0,2201.8 L774.0,2201.4 L777.0,2201.1 L780.0,2200.7 L783.0,2200.4 L786.0,2200.0 L789.0,2199.7 L792.0,2199.3 L795.0,2199.0 L798.0,2198.6 L801.0,2198.3 L804.0,2197.9 L807.0,2197.6 L810.0,2197.2 L813.0,2196.9 L816.0,2196.5 L819.0,2196.2 L821.9,2195.9 L824.9,2195.5 L827.9,2195.2 L830.9,2194.8 L833.9,2194.5 L836.9,2194.1 L839.9,2193.8 L842.9,2193.4 L845.9,2193.1 L848.9,2192.7 L851.9,2192.4 L854.9,2192.0 L857.9,2191.7 L860.9,2191.3 L863.9,2191.0 L866.9,2190.6 L869.9,2190.3 L872.9,2189.9 L875.9,2189.6 L878.9,2189.2 L881.9,2188.9 L884.9,2188.6 L887.9,2188.2 L890.9,2187.9 L893.9,2187.5 L896.9,2187.2 L899.9,2186.8 L902.9,2186.5 L905.9,2186.1 L908.8,2185.8 L911.8,2185.4 L914.8,2185.1 L917.8,2184.7 L920.8,2184.4 L923.8,2184.0 L926.8,2183.7 L929.8,2183.3 L932.8,2183.0 L935.8,2182.6 L938.8,2182.3 L941.8,2182.0 L944.8,2181.6 L947.8,2181.3 L950.8,2180.9 L953.8,2180.6 L956.8,2180.2 L959.8,2179.9 L962.8,2179.5 L965.8,2179.2 L968.8,2178.8 L971.8,2178.5 L974.8,2178.1 L977.8,2177.8 L980.8,2177.4 L983.8,2177.1 L986.8,2176.7 L989.8,2176.4 L992.7,2176.1 L995.7,2175.7 L998.7,2175.4 L1001.7,2175.0 L1004.7,2174.7 L1007.7,2174.3 L1010.7,2174.0 L1013.7,2173.6 L1016.7,2173.3 L1019.7,2172.9 L1022.7,2172.6 L1025.7,2172.2 L1028.7,2171.9 L1031.7,2171.5 L1034.7,2171.2 L1037.7,2170.9 L1040.7,2170.5 L1043.7,2170.2 L1046.7,2169.8 L1049.7,2169.5 L1052.7,2169.1 L1055.7,2168.8 L1058.7,2168.4 L1061.7,2168.1 L1064.7,2167.7 L1067.7,2167.4 L1070.7,2167.0 L1073.7,2166.7 L1076.7,2166.3 L1079.6,2166.0 L1082.6,2165.7 L1085.6,2165.3 L1088.6,2165.0 L1091.6,2164.6 L1094.6,2164.3 L1097.6,2163.9 L1100.6,2163.6 L1103.6,2163.2 L1106.6,2162.9 L1109.6,2162.5 L1112.6,2162.2 L1115.6,2161.8 L1118.6,2161.5 L1121.6,2161.1 L1124.6,2160.8 L1127.6,2160.5 L1130.6,2160.1 L1133.6,2159.8 L1136.6,2159.4 L1139.6,2159.1 L1142.6,2158.7 L1145.6,2158.4 L1148.6,2158.0 L1151.6,2157.7 L1154.6,2157.3 L1157.6,2157.0 L1160.6,2156.6 L1163.5,2156.3 L1166.5,2156.0 L1169.5,2155.6 L1172.5,2155.3 L1175.5,2154.9 L1178.5,2154.6 L1181.5,2154.2 L1184.5,2153.9 L1187.5,2153.5 L1190.5,2153.2 L1193.5,2152.8 L1196.5,2152.5 L1199.5,2152.1 L1202.5,2151.8 L1205.5,2151.5 L1208.5,2151.1 L1211.5,2150.8 L1214.5,2150.4 L1217.5,2150.1 L1220.5,2149.7 L1223.5,2149.4 L1226.5,2149.0 L1229.5,2148.7 L1232.5,2148.3 L1235.5,2148.0 L1238.5,2147.6 L1241.5,2147.3 L1244.5,2147.0 L1247.5,2146.6 L1250.4,2146.3 L1253.4,2145.9 L1256.4,2145.6 L1259.4,2145.2 L1262.4,2144.9 L1265.4,2144.5 L1268.4,2144.2 L1271.4,2143.8 L1274.4,2143.5 L1277.4,2143.2 L1280.4,2142.8 L1283.4,2142.5 L1286.4,2142.1 L1289.4,2141.8 L1292.4,2141.4 L1295.4,2141.1 L1298.4,2140.7 L1301.4,2140.4 L1304.4,2140.0 L1307.4,2139.7 L1310.4,2139.4 L1313.4,2139.0 L1316.4,2138.7 L1319.4,2138.3 L1322.4,2138.0 L1325.4,2137.6 L1328.4,2137.3 L1331.4,2136.9 L1334.3,2136.6 L1337.3,2136.3 L1340.3,2135.9 L1343.3,2135.6 L1346.3,2135.2 L1349.3,2134.9 L1352.3,2134.5 L1355.3,2134.2 L1358.3,2133.8 L1361.3,2133.5 L1364.3,2133.2 L1367.3,2132.8 L1370.3,2132.5 L1373.3,2132.1 L1376.3,2131.8 L1379.3,2131.4 L1382.3,2131.1 L1385.3,2130.8 L1388.3,2130.4 L1391.3,2130.1 L1394.3,2129.7 L1397.3,2129.4 L1400.3,2129.0 L1403.3,2128.7 L1406.3,2128.4 L1409.3,2128.0 L1412.3,2127.7 L1415.3,2127.3 L1418.3,2127.0 L1421.2,2126.6 L1424.2,2126.3 L1427.2,2126.0 L1430.2,2125.6 L1433.2,2125.3 L1436.2,2124.9 L1439.2,2124.6 L1442.2,2124.3 L1445.2,2123.9 L1448.2,2123.6 L1451.2,2123.2 L1454.2,2122.9 L1457.2,2122.6 L1460.2,2122.2 L1463.2,2121.9 L1466.2,2121.6 L1469.2,2121.2 L1472.2,2120.9 L1475.2,2120.5 L1478.2,2120.2 L1481.2,2119.9 L1484.2,2119.5 L1487.2,2119.2 L1490.2,2118.9 L1493.2,2118.5 L1496.2,2118.2 L1499.2,2117.9 L1502.2,2117.5 L1505.1,2117.2 L1508.1,2116.9 L1511.1,2116.5 L1514.1,2116.2 L1517.1,2115.9 L1520.1,2115.5 L1523.1,2115.2 L1526.1,2114.9 L1529.1,2114.6 L1532.1,2114.2 L1535.1,2113.9 L1538.1,2113.6 L1541.1,2113.3 L1544.1,2113.0 L1547.1,2112.6 L1550.1,2112.3 L1553.1,2112.0 L1556.1,2111.7 L1559.1,2111.4 L1562.1,2111.0 L1565.1,2110.7 L1568.1,2110.4 L1571.1,2110.1 L1574.1,2109.8 L1577.1,2109.5 L1580.1,2109.2 L1583.1,2108.9 L1586.1,2108.6 L1589.1,2108.3 L1592.0,2108.0 L1595.0,2107.7 L1598.0,2107.4 L1601.0,2107.1 L1604.0,2106.8 L1607.0,2106.5 L1610.0,2106.3 L1613.0,2106.0 L1616.0,2105.7 L1619.0,2105.4 L1622.0,2105.2 L1625.0,2104.9 L1628.0,2104.6 L1631.0,2104.4 L1634.0,2104.1 L1637.0,2103.8 L1640.0,2103.6 L1643.0,2103.4 L1646.0,2103.1 L1649.0,2102.9 L1652.0,2102.6 L1655.0,2102.4 L1658.0,2102.2 L1661.0,2102.0 L1664.0,2101.8 L1667.0,2101.6 L1670.0,2101.4 L1673.0,2101.2 L1675.9,2101.0 L1678.9,2100.8 L1681.9,2100.7 L1684.9,2100.5 L1687.9,2100.3 L1690.9,2100.2 L1693.9,2100.1 L1696.9,2099.9 L1699.9,2099.8 L1702.9,2099.7 L1705.9,2099.6 L1708.9,2099.5 L1711.9,2099.5 L1714.9,2099.4 L1717.9,2099.3 L1720.9,2099.3 L1723.9,2099.3 L1726.9,2099.3 L1729.9,2099.3 L1732.9,2099.3 L1735.9,2099.3 L1738.9,2099.4 L1741.9,2099.5 L1744.9,2099.5 L1747.9,2099.6 L1750.9,2099.8 L1753.9,2099.9 L1756.9,2100.1 L1759.9,2100.3 L1762.8,2100.5 L1765.8,2100.7 L1768.8,2101.0 L1771.8,2101.3 L1774.8,2101.6 L1777.8,2101.9 L1780.8,2102.3 L1783.8,2102.7 L1786.8,2103.1 L1789.8,2103.5 L1792.8,2104.0 L1795.8,2104.6 L1798.8,2105.1 L1801.8,2105.7 L1804.8,2106.4 L1807.8,2107.0 L1810.8,2107.8 L1813.8,2108.5 L1816.8,2109.3 L1819.8,2110.2 L1822.8,2111.1 L1825.8,2112.0 L1828.8,2113.1 L1831.8,2114.1 L1834.8,2115.2 L1837.8,2116.4 L1840.8,2117.6 L1843.8,2118.9 L1846.7,2120.2 L1849.7,2121.7 L1852.7,2123.1 L1855.7,2124.7 L1858.7,2126.3 L1861.7,2128.0 L1864.7,2129.8 L1867.7,2131.6 L1870.7,2133.5 L1873.7,2135.5 L1876.7,2137.6 L1879.7,2139.8 L1882.7,2142.1 L1885.7,2144.4 L1888.7,2146.9 L1891.7,2149.4 L1894.7,2152.0 L1897.7,2154.8 L1900.7,2157.6 L1903.7,2160.6 L1906.7,2163.6 L1909.7,2166.8 L1912.7,2170.1 L1915.7,2173.4 L1918.7,2177.0 L1921.7,2180.6 L1924.7,2184.3 L1927.7,2188.2 L1930.7,2192.2 L1933.6,2196.3 L1936.6,2200.6 L1939.6,2204.9 L1942.6,2209.5 L1945.6,2214.1 L1948.6,2218.9 L1951.6,2223.8 L1954.6,2228.9 L1957.6,2234.1 L1960.6,2239.5 L1963.6,2245.0 L1966.6,2250.6 L1969.6,2256.4 L1972.6,2262.4 L1975.6,2268.5" fill="none" stroke="#d040d0" stroke-width="4.5" stroke-linejoin="round"/>
<text x="1653" y="1516" font-family="Liberation Sans, Arial, sans-serif" font-size="44" fill="#ff4040">1 kW/m</text>
<text x="1805" y="1497" font-family="Liberation Sans, Arial, sans-serif" font-size="36" fill="#ff4040">2</text>
<text x="1647" y="1674.5" font-family="Liberation Sans, Arial, sans-serif" font-size="44" fill="#4040ff">0.8 kW/m</text>
<text x="1833" y="1655" font-family="Liberation Sans, Arial, sans-serif" font-size="36" fill="#4040ff">2</text>
<text x="1639.5" y="1860.5" font-family="Liberation Sans, Arial, sans-serif" font-size="44" fill="#404040">0.6 kW/m</text>
<text x="1825.5" y="1841.5" font-family="Liberation Sans, Arial, sans-serif" font-size="36" fill="#404040">2</text>
<text x="1639.5" y="2025.5" font-family="Liberation Sans, Arial, sans-serif" font-size="44" fill="#e07040">0.4 kW/m</text>
<text x="1825.5" y="2004.5" font-family="Liberation Sans, Arial, sans-serif" font-size="36" fill="#e07040">2</text>
<text x="1635" y="2203.5" font-family="Liberation Sans, Arial, sans-serif" font-size="44" fill="#d040d0">0.2 kW/m</text>
<text x="1821.5" y="2182.5" font-family="Liberation Sans, Arial, sans-serif" font-size="36" fill="#d040d0">2</text>
</g>
</svg>
</body></html>
